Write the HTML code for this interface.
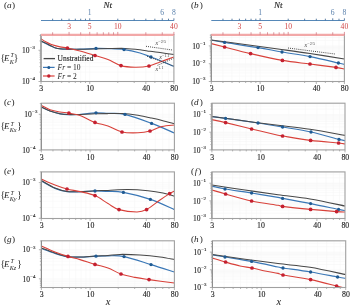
<!DOCTYPE html><html><head><meta charset="utf-8"><style>html,body{margin:0;padding:0;background:#fff;width:350px;height:307px;overflow:hidden}svg{display:block;filter:blur(0.3px)}</style></head><body><svg width="350" height="307" viewBox="0 0 350 307" font-family='"Liberation Serif", serif'>
<rect width="350" height="307" fill="#fff"/>
<style>text{stroke-width:0.12px;paint-order:stroke}</style>
<line x1="41.0" y1="72.11" x2="173.9" y2="72.11" stroke="#f6f6f6" stroke-width="0.6"/>
<line x1="41.0" y1="66.61" x2="173.9" y2="66.61" stroke="#f6f6f6" stroke-width="0.6"/>
<line x1="41.0" y1="62.72" x2="173.9" y2="62.72" stroke="#f6f6f6" stroke-width="0.6"/>
<line x1="41.0" y1="59.69" x2="173.9" y2="59.69" stroke="#f6f6f6" stroke-width="0.6"/>
<line x1="41.0" y1="57.22" x2="173.9" y2="57.22" stroke="#f6f6f6" stroke-width="0.6"/>
<line x1="41.0" y1="55.13" x2="173.9" y2="55.13" stroke="#f6f6f6" stroke-width="0.6"/>
<line x1="41.0" y1="53.32" x2="173.9" y2="53.32" stroke="#f6f6f6" stroke-width="0.6"/>
<line x1="41.0" y1="51.73" x2="173.9" y2="51.73" stroke="#f6f6f6" stroke-width="0.6"/>
<line x1="41.0" y1="50.30" x2="173.9" y2="50.30" stroke="#f6f6f6" stroke-width="0.6"/>
<line x1="41.0" y1="40.91" x2="173.9" y2="40.91" stroke="#f6f6f6" stroke-width="0.6"/>
<line x1="41.0" y1="35.41" x2="173.9" y2="35.41" stroke="#f6f6f6" stroke-width="0.6"/>
<line x1="52.64" y1="34.6" x2="52.64" y2="81.5" stroke="#f6f6f6" stroke-width="0.6"/>
<line x1="61.68" y1="34.6" x2="61.68" y2="81.5" stroke="#f6f6f6" stroke-width="0.6"/>
<line x1="69.06" y1="34.6" x2="69.06" y2="81.5" stroke="#f6f6f6" stroke-width="0.6"/>
<line x1="75.30" y1="34.6" x2="75.30" y2="81.5" stroke="#f6f6f6" stroke-width="0.6"/>
<line x1="80.70" y1="34.6" x2="80.70" y2="81.5" stroke="#f6f6f6" stroke-width="0.6"/>
<line x1="85.47" y1="34.6" x2="85.47" y2="81.5" stroke="#f6f6f6" stroke-width="0.6"/>
<line x1="89.73" y1="34.6" x2="89.73" y2="81.5" stroke="#f6f6f6" stroke-width="0.6"/>
<line x1="117.79" y1="34.6" x2="117.79" y2="81.5" stroke="#f6f6f6" stroke-width="0.6"/>
<line x1="134.20" y1="34.6" x2="134.20" y2="81.5" stroke="#f6f6f6" stroke-width="0.6"/>
<line x1="145.84" y1="34.6" x2="145.84" y2="81.5" stroke="#f6f6f6" stroke-width="0.6"/>
<line x1="154.88" y1="34.6" x2="154.88" y2="81.5" stroke="#f6f6f6" stroke-width="0.6"/>
<line x1="162.26" y1="34.6" x2="162.26" y2="81.5" stroke="#f6f6f6" stroke-width="0.6"/>
<line x1="168.50" y1="34.6" x2="168.50" y2="81.5" stroke="#f6f6f6" stroke-width="0.6"/>
<clipPath id="cp00"><rect x="38.0" y="34.6" width="135.90" height="46.90"/></clipPath><g clip-path="url(#cp00)">
<path d="M41.00,41.20 C41.78,41.57 43.97,42.57 45.70,43.40 C47.43,44.23 49.68,45.40 51.40,46.20 C53.12,47.00 54.57,47.77 56.00,48.20 C57.43,48.63 58.17,48.65 60.00,48.80 C61.83,48.95 63.67,49.03 67.00,49.10 C70.33,49.17 75.17,49.32 80.00,49.20 C84.83,49.08 91.33,48.50 96.00,48.40 C100.67,48.30 103.33,48.40 108.00,48.60 C112.67,48.80 118.67,48.87 124.00,49.60 C129.33,50.33 135.50,51.77 140.00,53.00 C144.50,54.23 147.67,55.75 151.00,57.00 C154.33,58.25 156.18,58.92 160.00,60.50 C163.82,62.08 171.58,65.50 173.90,66.50" fill="none" stroke="#3a77b6" stroke-width="1.2" stroke-linejoin="round"/>
<path d="M41.00,40.90 C41.78,41.27 43.97,42.25 45.70,43.10 C47.43,43.95 49.68,45.17 51.40,46.00 C53.12,46.83 54.57,47.63 56.00,48.10 C57.43,48.57 58.17,48.63 60.00,48.80 C61.83,48.97 63.67,49.02 67.00,49.10 C70.33,49.18 75.33,49.32 80.00,49.30 C84.67,49.28 90.33,49.12 95.00,49.00 C99.67,48.88 103.00,48.70 108.00,48.60 C113.00,48.50 119.67,48.22 125.00,48.40 C130.33,48.58 135.83,49.22 140.00,49.70 C144.17,50.18 146.67,50.82 150.00,51.30 C153.33,51.78 156.02,52.07 160.00,52.60 C163.98,53.13 171.58,54.18 173.90,54.50" fill="none" stroke="#484848" stroke-width="1.05" stroke-linejoin="round"/>
<path d="M41.00,38.80 C41.78,39.28 43.97,40.73 45.70,41.70 C47.43,42.67 49.02,43.73 51.40,44.60 C53.78,45.47 57.33,46.33 60.00,46.90 C62.67,47.47 64.07,47.32 67.40,48.00 C70.73,48.68 75.40,49.75 80.00,51.00 C84.60,52.25 90.33,54.08 95.00,55.50 C99.67,56.92 103.67,57.82 108.00,59.50 C112.33,61.18 116.50,64.32 121.00,65.60 C125.50,66.88 130.33,67.13 135.00,67.20 C139.67,67.27 144.83,66.87 149.00,66.00 C153.17,65.13 155.85,63.50 160.00,62.00 C164.15,60.50 171.58,57.83 173.90,57.00" fill="none" stroke="#d8413a" stroke-width="1.1" stroke-linejoin="round"/>
<circle cx="96.00" cy="48.40" r="1.65" fill="#1f5a92"/>
<circle cx="124.00" cy="49.60" r="1.65" fill="#1f5a92"/>
<circle cx="151.00" cy="57.00" r="1.65" fill="#1f5a92"/>
<circle cx="67.40" cy="48.00" r="1.85" fill="#c42030"/>
<circle cx="95.00" cy="55.50" r="1.85" fill="#c42030"/>
<circle cx="121.00" cy="65.60" r="1.85" fill="#c42030"/>
<circle cx="149.00" cy="66.00" r="1.85" fill="#c42030"/>
</g>
<rect x="41.0" y="34.6" width="132.90" height="46.90" fill="none" stroke="#a0a0a0" stroke-width="1.1"/>
<line x1="41.0" y1="34.6" x2="41.0" y2="81.5" stroke="#8a8a8a" stroke-width="1"/>
<line x1="38.50" y1="81.50" x2="41.0" y2="81.50" stroke="#a0a0a0" stroke-width="0.8"/>
<text x="29.50" y="84.20" font-size="7.5" text-anchor="end"  fill="#222" stroke="#222" >10</text>
<text x="35.10" y="80.30" font-size="5" text-anchor="end"  fill="#222" stroke="#222" >−4</text>
<line x1="39.50" y1="72.11" x2="41.0" y2="72.11" stroke="#a0a0a0" stroke-width="0.8"/>
<line x1="39.50" y1="66.61" x2="41.0" y2="66.61" stroke="#a0a0a0" stroke-width="0.8"/>
<line x1="39.50" y1="62.72" x2="41.0" y2="62.72" stroke="#a0a0a0" stroke-width="0.8"/>
<line x1="39.50" y1="59.69" x2="41.0" y2="59.69" stroke="#a0a0a0" stroke-width="0.8"/>
<line x1="39.50" y1="57.22" x2="41.0" y2="57.22" stroke="#a0a0a0" stroke-width="0.8"/>
<line x1="39.50" y1="55.13" x2="41.0" y2="55.13" stroke="#a0a0a0" stroke-width="0.8"/>
<line x1="39.50" y1="53.32" x2="41.0" y2="53.32" stroke="#a0a0a0" stroke-width="0.8"/>
<line x1="39.50" y1="51.73" x2="41.0" y2="51.73" stroke="#a0a0a0" stroke-width="0.8"/>
<line x1="38.50" y1="50.30" x2="41.0" y2="50.30" stroke="#a0a0a0" stroke-width="0.8"/>
<text x="29.50" y="53.00" font-size="7.5" text-anchor="end"  fill="#222" stroke="#222" >10</text>
<text x="35.10" y="49.10" font-size="5" text-anchor="end"  fill="#222" stroke="#222" >−3</text>
<line x1="39.50" y1="40.91" x2="41.0" y2="40.91" stroke="#a0a0a0" stroke-width="0.8"/>
<line x1="39.50" y1="35.41" x2="41.0" y2="35.41" stroke="#a0a0a0" stroke-width="0.8"/>
<line x1="41.00" y1="81.5" x2="41.00" y2="84.0" stroke="#a0a0a0" stroke-width="0.8"/>
<line x1="52.64" y1="81.5" x2="52.64" y2="83.0" stroke="#a0a0a0" stroke-width="0.8"/>
<line x1="61.68" y1="81.5" x2="61.68" y2="83.0" stroke="#a0a0a0" stroke-width="0.8"/>
<line x1="69.06" y1="81.5" x2="69.06" y2="83.0" stroke="#a0a0a0" stroke-width="0.8"/>
<line x1="75.30" y1="81.5" x2="75.30" y2="83.0" stroke="#a0a0a0" stroke-width="0.8"/>
<line x1="80.70" y1="81.5" x2="80.70" y2="83.0" stroke="#a0a0a0" stroke-width="0.8"/>
<line x1="85.47" y1="81.5" x2="85.47" y2="83.0" stroke="#a0a0a0" stroke-width="0.8"/>
<line x1="89.73" y1="81.5" x2="89.73" y2="84.0" stroke="#a0a0a0" stroke-width="0.8"/>
<line x1="117.79" y1="81.5" x2="117.79" y2="83.0" stroke="#a0a0a0" stroke-width="0.8"/>
<line x1="134.20" y1="81.5" x2="134.20" y2="83.0" stroke="#a0a0a0" stroke-width="0.8"/>
<line x1="145.84" y1="81.5" x2="145.84" y2="84.0" stroke="#a0a0a0" stroke-width="0.8"/>
<line x1="154.88" y1="81.5" x2="154.88" y2="83.0" stroke="#a0a0a0" stroke-width="0.8"/>
<line x1="162.26" y1="81.5" x2="162.26" y2="83.0" stroke="#a0a0a0" stroke-width="0.8"/>
<line x1="168.50" y1="81.5" x2="168.50" y2="83.0" stroke="#a0a0a0" stroke-width="0.8"/>
<line x1="173.90" y1="81.5" x2="173.90" y2="84.0" stroke="#a0a0a0" stroke-width="0.8"/>
<text x="41.30" y="91.40" font-size="7.8" text-anchor="middle"  fill="#222" stroke="#222" >3</text>
<text x="90.03" y="91.40" font-size="7.8" text-anchor="middle"  fill="#222" stroke="#222" >10</text>
<text x="146.14" y="91.40" font-size="7.8" text-anchor="middle"  fill="#222" stroke="#222" >40</text>
<text x="174.20" y="91.40" font-size="7.8" text-anchor="middle"  fill="#222" stroke="#222" >80</text>
<line x1="211.3" y1="76.14" x2="344.4" y2="76.14" stroke="#f6f6f6" stroke-width="0.6"/>
<line x1="211.3" y1="73.01" x2="344.4" y2="73.01" stroke="#f6f6f6" stroke-width="0.6"/>
<line x1="211.3" y1="70.78" x2="344.4" y2="70.78" stroke="#f6f6f6" stroke-width="0.6"/>
<line x1="211.3" y1="69.06" x2="344.4" y2="69.06" stroke="#f6f6f6" stroke-width="0.6"/>
<line x1="211.3" y1="67.65" x2="344.4" y2="67.65" stroke="#f6f6f6" stroke-width="0.6"/>
<line x1="211.3" y1="66.46" x2="344.4" y2="66.46" stroke="#f6f6f6" stroke-width="0.6"/>
<line x1="211.3" y1="65.42" x2="344.4" y2="65.42" stroke="#f6f6f6" stroke-width="0.6"/>
<line x1="211.3" y1="64.51" x2="344.4" y2="64.51" stroke="#f6f6f6" stroke-width="0.6"/>
<line x1="211.3" y1="63.70" x2="344.4" y2="63.70" stroke="#f6f6f6" stroke-width="0.6"/>
<line x1="211.3" y1="58.34" x2="344.4" y2="58.34" stroke="#f6f6f6" stroke-width="0.6"/>
<line x1="211.3" y1="55.21" x2="344.4" y2="55.21" stroke="#f6f6f6" stroke-width="0.6"/>
<line x1="211.3" y1="52.98" x2="344.4" y2="52.98" stroke="#f6f6f6" stroke-width="0.6"/>
<line x1="211.3" y1="51.26" x2="344.4" y2="51.26" stroke="#f6f6f6" stroke-width="0.6"/>
<line x1="211.3" y1="49.85" x2="344.4" y2="49.85" stroke="#f6f6f6" stroke-width="0.6"/>
<line x1="211.3" y1="48.66" x2="344.4" y2="48.66" stroke="#f6f6f6" stroke-width="0.6"/>
<line x1="211.3" y1="47.62" x2="344.4" y2="47.62" stroke="#f6f6f6" stroke-width="0.6"/>
<line x1="211.3" y1="46.71" x2="344.4" y2="46.71" stroke="#f6f6f6" stroke-width="0.6"/>
<line x1="211.3" y1="45.90" x2="344.4" y2="45.90" stroke="#f6f6f6" stroke-width="0.6"/>
<line x1="211.3" y1="40.54" x2="344.4" y2="40.54" stroke="#f6f6f6" stroke-width="0.6"/>
<line x1="211.3" y1="37.41" x2="344.4" y2="37.41" stroke="#f6f6f6" stroke-width="0.6"/>
<line x1="211.3" y1="35.18" x2="344.4" y2="35.18" stroke="#f6f6f6" stroke-width="0.6"/>
<line x1="222.96" y1="34.6" x2="222.96" y2="81.5" stroke="#f6f6f6" stroke-width="0.6"/>
<line x1="232.01" y1="34.6" x2="232.01" y2="81.5" stroke="#f6f6f6" stroke-width="0.6"/>
<line x1="239.40" y1="34.6" x2="239.40" y2="81.5" stroke="#f6f6f6" stroke-width="0.6"/>
<line x1="245.65" y1="34.6" x2="245.65" y2="81.5" stroke="#f6f6f6" stroke-width="0.6"/>
<line x1="251.06" y1="34.6" x2="251.06" y2="81.5" stroke="#f6f6f6" stroke-width="0.6"/>
<line x1="255.83" y1="34.6" x2="255.83" y2="81.5" stroke="#f6f6f6" stroke-width="0.6"/>
<line x1="260.11" y1="34.6" x2="260.11" y2="81.5" stroke="#f6f6f6" stroke-width="0.6"/>
<line x1="288.20" y1="34.6" x2="288.20" y2="81.5" stroke="#f6f6f6" stroke-width="0.6"/>
<line x1="304.64" y1="34.6" x2="304.64" y2="81.5" stroke="#f6f6f6" stroke-width="0.6"/>
<line x1="316.30" y1="34.6" x2="316.30" y2="81.5" stroke="#f6f6f6" stroke-width="0.6"/>
<line x1="325.35" y1="34.6" x2="325.35" y2="81.5" stroke="#f6f6f6" stroke-width="0.6"/>
<line x1="332.74" y1="34.6" x2="332.74" y2="81.5" stroke="#f6f6f6" stroke-width="0.6"/>
<line x1="338.99" y1="34.6" x2="338.99" y2="81.5" stroke="#f6f6f6" stroke-width="0.6"/>
<clipPath id="cp10"><rect x="208.3" y="34.6" width="136.10" height="46.90"/></clipPath><g clip-path="url(#cp10)">
<path d="M211.30,40.20 C213.52,40.57 216.82,41.17 224.60,42.40 C232.38,43.63 248.43,46.00 258.00,47.60 C267.57,49.20 273.33,50.50 282.00,52.00 C290.67,53.50 300.60,54.77 310.00,56.60 C319.40,58.43 332.67,61.70 338.40,63.00 C344.13,64.30 343.40,64.17 344.40,64.40" fill="none" stroke="#3a77b6" stroke-width="1.2" stroke-linejoin="round"/>
<path d="M211.30,40.00 C216.92,40.75 233.88,43.00 245.00,44.50 C256.12,46.00 267.17,47.50 278.00,49.00 C288.83,50.50 298.93,51.83 310.00,53.50 C321.07,55.17 338.67,58.08 344.40,59.00" fill="none" stroke="#484848" stroke-width="1.05" stroke-linejoin="round"/>
<path d="M211.30,43.60 C213.52,44.17 218.05,45.33 224.60,47.00 C231.15,48.67 240.97,51.37 250.60,53.60 C260.23,55.83 272.50,58.67 282.40,60.40 C292.30,62.13 301.07,62.83 310.00,64.00 C318.93,65.17 330.27,66.57 336.00,67.40 C341.73,68.23 343.00,68.73 344.40,69.00" fill="none" stroke="#d8413a" stroke-width="1.1" stroke-linejoin="round"/>
<circle cx="224.60" cy="42.40" r="1.65" fill="#1f5a92"/>
<circle cx="258.00" cy="47.60" r="1.65" fill="#1f5a92"/>
<circle cx="282.00" cy="52.00" r="1.65" fill="#1f5a92"/>
<circle cx="310.00" cy="56.60" r="1.65" fill="#1f5a92"/>
<circle cx="338.40" cy="63.00" r="1.65" fill="#1f5a92"/>
<circle cx="224.60" cy="47.00" r="1.85" fill="#c42030"/>
<circle cx="250.60" cy="53.60" r="1.85" fill="#c42030"/>
<circle cx="282.40" cy="60.40" r="1.85" fill="#c42030"/>
<circle cx="310.00" cy="64.00" r="1.85" fill="#c42030"/>
<circle cx="336.00" cy="67.40" r="1.85" fill="#c42030"/>
</g>
<rect x="211.3" y="34.6" width="133.10" height="46.90" fill="none" stroke="#a0a0a0" stroke-width="1.1"/>
<line x1="211.3" y1="34.6" x2="211.3" y2="81.5" stroke="#8a8a8a" stroke-width="1"/>
<line x1="208.80" y1="81.50" x2="211.3" y2="81.50" stroke="#a0a0a0" stroke-width="0.8"/>
<text x="199.80" y="84.20" font-size="7.5" text-anchor="end"  fill="#222" stroke="#222" >10</text>
<text x="205.40" y="80.30" font-size="5" text-anchor="end"  fill="#222" stroke="#222" >−3</text>
<line x1="209.80" y1="76.14" x2="211.3" y2="76.14" stroke="#a0a0a0" stroke-width="0.8"/>
<line x1="209.80" y1="73.01" x2="211.3" y2="73.01" stroke="#a0a0a0" stroke-width="0.8"/>
<line x1="209.80" y1="70.78" x2="211.3" y2="70.78" stroke="#a0a0a0" stroke-width="0.8"/>
<line x1="209.80" y1="69.06" x2="211.3" y2="69.06" stroke="#a0a0a0" stroke-width="0.8"/>
<line x1="209.80" y1="67.65" x2="211.3" y2="67.65" stroke="#a0a0a0" stroke-width="0.8"/>
<line x1="209.80" y1="66.46" x2="211.3" y2="66.46" stroke="#a0a0a0" stroke-width="0.8"/>
<line x1="209.80" y1="65.42" x2="211.3" y2="65.42" stroke="#a0a0a0" stroke-width="0.8"/>
<line x1="209.80" y1="64.51" x2="211.3" y2="64.51" stroke="#a0a0a0" stroke-width="0.8"/>
<line x1="208.80" y1="63.70" x2="211.3" y2="63.70" stroke="#a0a0a0" stroke-width="0.8"/>
<text x="199.80" y="66.40" font-size="7.5" text-anchor="end"  fill="#222" stroke="#222" >10</text>
<text x="205.40" y="62.50" font-size="5" text-anchor="end"  fill="#222" stroke="#222" >−2</text>
<line x1="209.80" y1="58.34" x2="211.3" y2="58.34" stroke="#a0a0a0" stroke-width="0.8"/>
<line x1="209.80" y1="55.21" x2="211.3" y2="55.21" stroke="#a0a0a0" stroke-width="0.8"/>
<line x1="209.80" y1="52.98" x2="211.3" y2="52.98" stroke="#a0a0a0" stroke-width="0.8"/>
<line x1="209.80" y1="51.26" x2="211.3" y2="51.26" stroke="#a0a0a0" stroke-width="0.8"/>
<line x1="209.80" y1="49.85" x2="211.3" y2="49.85" stroke="#a0a0a0" stroke-width="0.8"/>
<line x1="209.80" y1="48.66" x2="211.3" y2="48.66" stroke="#a0a0a0" stroke-width="0.8"/>
<line x1="209.80" y1="47.62" x2="211.3" y2="47.62" stroke="#a0a0a0" stroke-width="0.8"/>
<line x1="209.80" y1="46.71" x2="211.3" y2="46.71" stroke="#a0a0a0" stroke-width="0.8"/>
<line x1="208.80" y1="45.90" x2="211.3" y2="45.90" stroke="#a0a0a0" stroke-width="0.8"/>
<text x="199.80" y="48.60" font-size="7.5" text-anchor="end"  fill="#222" stroke="#222" >10</text>
<text x="205.40" y="44.70" font-size="5" text-anchor="end"  fill="#222" stroke="#222" >−1</text>
<line x1="209.80" y1="40.54" x2="211.3" y2="40.54" stroke="#a0a0a0" stroke-width="0.8"/>
<line x1="209.80" y1="37.41" x2="211.3" y2="37.41" stroke="#a0a0a0" stroke-width="0.8"/>
<line x1="209.80" y1="35.18" x2="211.3" y2="35.18" stroke="#a0a0a0" stroke-width="0.8"/>
<line x1="211.30" y1="81.5" x2="211.30" y2="84.0" stroke="#a0a0a0" stroke-width="0.8"/>
<line x1="222.96" y1="81.5" x2="222.96" y2="83.0" stroke="#a0a0a0" stroke-width="0.8"/>
<line x1="232.01" y1="81.5" x2="232.01" y2="83.0" stroke="#a0a0a0" stroke-width="0.8"/>
<line x1="239.40" y1="81.5" x2="239.40" y2="83.0" stroke="#a0a0a0" stroke-width="0.8"/>
<line x1="245.65" y1="81.5" x2="245.65" y2="83.0" stroke="#a0a0a0" stroke-width="0.8"/>
<line x1="251.06" y1="81.5" x2="251.06" y2="83.0" stroke="#a0a0a0" stroke-width="0.8"/>
<line x1="255.83" y1="81.5" x2="255.83" y2="83.0" stroke="#a0a0a0" stroke-width="0.8"/>
<line x1="260.11" y1="81.5" x2="260.11" y2="84.0" stroke="#a0a0a0" stroke-width="0.8"/>
<line x1="288.20" y1="81.5" x2="288.20" y2="83.0" stroke="#a0a0a0" stroke-width="0.8"/>
<line x1="304.64" y1="81.5" x2="304.64" y2="83.0" stroke="#a0a0a0" stroke-width="0.8"/>
<line x1="316.30" y1="81.5" x2="316.30" y2="84.0" stroke="#a0a0a0" stroke-width="0.8"/>
<line x1="325.35" y1="81.5" x2="325.35" y2="83.0" stroke="#a0a0a0" stroke-width="0.8"/>
<line x1="332.74" y1="81.5" x2="332.74" y2="83.0" stroke="#a0a0a0" stroke-width="0.8"/>
<line x1="338.99" y1="81.5" x2="338.99" y2="83.0" stroke="#a0a0a0" stroke-width="0.8"/>
<line x1="344.40" y1="81.5" x2="344.40" y2="84.0" stroke="#a0a0a0" stroke-width="0.8"/>
<text x="211.60" y="91.40" font-size="7.8" text-anchor="middle"  fill="#222" stroke="#222" >3</text>
<text x="260.41" y="91.40" font-size="7.8" text-anchor="middle"  fill="#222" stroke="#222" >10</text>
<text x="316.60" y="91.40" font-size="7.8" text-anchor="middle"  fill="#222" stroke="#222" >40</text>
<text x="344.70" y="91.40" font-size="7.8" text-anchor="middle"  fill="#222" stroke="#222" >80</text>
<line x1="41.3" y1="139.39" x2="174.4" y2="139.39" stroke="#f6f6f6" stroke-width="0.6"/>
<line x1="41.3" y1="133.07" x2="174.4" y2="133.07" stroke="#f6f6f6" stroke-width="0.6"/>
<line x1="41.3" y1="128.59" x2="174.4" y2="128.59" stroke="#f6f6f6" stroke-width="0.6"/>
<line x1="41.3" y1="125.11" x2="174.4" y2="125.11" stroke="#f6f6f6" stroke-width="0.6"/>
<line x1="41.3" y1="122.26" x2="174.4" y2="122.26" stroke="#f6f6f6" stroke-width="0.6"/>
<line x1="41.3" y1="119.86" x2="174.4" y2="119.86" stroke="#f6f6f6" stroke-width="0.6"/>
<line x1="41.3" y1="117.78" x2="174.4" y2="117.78" stroke="#f6f6f6" stroke-width="0.6"/>
<line x1="41.3" y1="115.94" x2="174.4" y2="115.94" stroke="#f6f6f6" stroke-width="0.6"/>
<line x1="41.3" y1="114.30" x2="174.4" y2="114.30" stroke="#f6f6f6" stroke-width="0.6"/>
<line x1="52.96" y1="103.2" x2="52.96" y2="149.9" stroke="#f6f6f6" stroke-width="0.6"/>
<line x1="62.01" y1="103.2" x2="62.01" y2="149.9" stroke="#f6f6f6" stroke-width="0.6"/>
<line x1="69.40" y1="103.2" x2="69.40" y2="149.9" stroke="#f6f6f6" stroke-width="0.6"/>
<line x1="75.65" y1="103.2" x2="75.65" y2="149.9" stroke="#f6f6f6" stroke-width="0.6"/>
<line x1="81.06" y1="103.2" x2="81.06" y2="149.9" stroke="#f6f6f6" stroke-width="0.6"/>
<line x1="85.83" y1="103.2" x2="85.83" y2="149.9" stroke="#f6f6f6" stroke-width="0.6"/>
<line x1="90.11" y1="103.2" x2="90.11" y2="149.9" stroke="#f6f6f6" stroke-width="0.6"/>
<line x1="118.20" y1="103.2" x2="118.20" y2="149.9" stroke="#f6f6f6" stroke-width="0.6"/>
<line x1="134.64" y1="103.2" x2="134.64" y2="149.9" stroke="#f6f6f6" stroke-width="0.6"/>
<line x1="146.30" y1="103.2" x2="146.30" y2="149.9" stroke="#f6f6f6" stroke-width="0.6"/>
<line x1="155.35" y1="103.2" x2="155.35" y2="149.9" stroke="#f6f6f6" stroke-width="0.6"/>
<line x1="162.74" y1="103.2" x2="162.74" y2="149.9" stroke="#f6f6f6" stroke-width="0.6"/>
<line x1="168.99" y1="103.2" x2="168.99" y2="149.9" stroke="#f6f6f6" stroke-width="0.6"/>
<clipPath id="cp01"><rect x="38.3" y="103.2" width="136.10" height="46.70"/></clipPath><g clip-path="url(#cp01)">
<path d="M41.30,107.00 C42.75,107.67 46.88,109.87 50.00,111.00 C53.12,112.13 57.00,113.20 60.00,113.80 C63.00,114.40 65.00,114.48 68.00,114.60 C71.00,114.72 73.33,114.80 78.00,114.50 C82.67,114.20 91.00,112.98 96.00,112.80 C101.00,112.62 103.17,113.13 108.00,113.40 C112.83,113.67 117.73,112.73 125.00,114.40 C132.27,116.07 143.37,120.30 151.60,123.40 C159.83,126.50 170.60,131.40 174.40,133.00" fill="none" stroke="#3a77b6" stroke-width="1.2" stroke-linejoin="round"/>
<path d="M41.30,106.90 C42.75,107.57 46.88,109.77 50.00,110.90 C53.12,112.03 57.00,113.08 60.00,113.70 C63.00,114.32 65.00,114.47 68.00,114.60 C71.00,114.73 73.50,114.63 78.00,114.50 C82.50,114.37 90.00,113.95 95.00,113.80 C100.00,113.65 103.50,113.63 108.00,113.60 C112.50,113.57 117.33,113.37 122.00,113.60 C126.67,113.83 131.33,114.30 136.00,115.00 C140.67,115.70 145.67,116.90 150.00,117.80 C154.33,118.70 157.93,119.43 162.00,120.40 C166.07,121.37 172.33,123.07 174.40,123.60" fill="none" stroke="#484848" stroke-width="1.05" stroke-linejoin="round"/>
<path d="M41.30,105.50 C42.75,106.20 46.88,108.62 50.00,109.70 C53.12,110.78 56.85,111.43 60.00,112.00 C63.15,112.57 65.57,112.50 68.90,113.10 C72.23,113.70 75.65,114.05 80.00,115.60 C84.35,117.15 90.33,120.67 95.00,122.40 C99.67,124.13 103.50,124.40 108.00,126.00 C112.50,127.60 117.00,130.87 122.00,132.00 C127.00,133.13 133.33,132.97 138.00,132.80 C142.67,132.63 146.00,132.05 150.00,131.00 C154.00,129.95 157.93,127.50 162.00,126.50 C166.07,125.50 172.33,125.25 174.40,125.00" fill="none" stroke="#d8413a" stroke-width="1.1" stroke-linejoin="round"/>
<circle cx="96.00" cy="112.80" r="1.65" fill="#1f5a92"/>
<circle cx="125.00" cy="114.40" r="1.65" fill="#1f5a92"/>
<circle cx="151.60" cy="123.40" r="1.65" fill="#1f5a92"/>
<circle cx="68.90" cy="113.10" r="1.85" fill="#c42030"/>
<circle cx="95.00" cy="122.40" r="1.85" fill="#c42030"/>
<circle cx="122.00" cy="132.00" r="1.85" fill="#c42030"/>
<circle cx="150.00" cy="131.00" r="1.85" fill="#c42030"/>
</g>
<rect x="41.3" y="103.2" width="133.10" height="46.70" fill="none" stroke="#a0a0a0" stroke-width="1.1"/>
<line x1="41.3" y1="103.2" x2="41.3" y2="149.9" stroke="#8a8a8a" stroke-width="1"/>
<line x1="38.80" y1="150.20" x2="41.3" y2="150.20" stroke="#a0a0a0" stroke-width="0.8"/>
<text x="29.80" y="152.90" font-size="7.5" text-anchor="end"  fill="#222" stroke="#222" >10</text>
<text x="35.40" y="149.00" font-size="5" text-anchor="end"  fill="#222" stroke="#222" >−4</text>
<line x1="39.80" y1="139.39" x2="41.3" y2="139.39" stroke="#a0a0a0" stroke-width="0.8"/>
<line x1="39.80" y1="133.07" x2="41.3" y2="133.07" stroke="#a0a0a0" stroke-width="0.8"/>
<line x1="39.80" y1="128.59" x2="41.3" y2="128.59" stroke="#a0a0a0" stroke-width="0.8"/>
<line x1="39.80" y1="125.11" x2="41.3" y2="125.11" stroke="#a0a0a0" stroke-width="0.8"/>
<line x1="39.80" y1="122.26" x2="41.3" y2="122.26" stroke="#a0a0a0" stroke-width="0.8"/>
<line x1="39.80" y1="119.86" x2="41.3" y2="119.86" stroke="#a0a0a0" stroke-width="0.8"/>
<line x1="39.80" y1="117.78" x2="41.3" y2="117.78" stroke="#a0a0a0" stroke-width="0.8"/>
<line x1="39.80" y1="115.94" x2="41.3" y2="115.94" stroke="#a0a0a0" stroke-width="0.8"/>
<line x1="38.80" y1="114.30" x2="41.3" y2="114.30" stroke="#a0a0a0" stroke-width="0.8"/>
<text x="31.80" y="117.00" font-size="7.5" text-anchor="end"  fill="#222" stroke="#222" >10</text>
<text x="37.40" y="113.10" font-size="5" text-anchor="end"  fill="#222" stroke="#222" >−3</text>
<line x1="39.80" y1="103.49" x2="41.3" y2="103.49" stroke="#a0a0a0" stroke-width="0.8"/>
<line x1="41.30" y1="149.9" x2="41.30" y2="152.4" stroke="#a0a0a0" stroke-width="0.8"/>
<line x1="52.96" y1="149.9" x2="52.96" y2="151.4" stroke="#a0a0a0" stroke-width="0.8"/>
<line x1="62.01" y1="149.9" x2="62.01" y2="151.4" stroke="#a0a0a0" stroke-width="0.8"/>
<line x1="69.40" y1="149.9" x2="69.40" y2="151.4" stroke="#a0a0a0" stroke-width="0.8"/>
<line x1="75.65" y1="149.9" x2="75.65" y2="151.4" stroke="#a0a0a0" stroke-width="0.8"/>
<line x1="81.06" y1="149.9" x2="81.06" y2="151.4" stroke="#a0a0a0" stroke-width="0.8"/>
<line x1="85.83" y1="149.9" x2="85.83" y2="151.4" stroke="#a0a0a0" stroke-width="0.8"/>
<line x1="90.11" y1="149.9" x2="90.11" y2="152.4" stroke="#a0a0a0" stroke-width="0.8"/>
<line x1="118.20" y1="149.9" x2="118.20" y2="151.4" stroke="#a0a0a0" stroke-width="0.8"/>
<line x1="134.64" y1="149.9" x2="134.64" y2="151.4" stroke="#a0a0a0" stroke-width="0.8"/>
<line x1="146.30" y1="149.9" x2="146.30" y2="152.4" stroke="#a0a0a0" stroke-width="0.8"/>
<line x1="155.35" y1="149.9" x2="155.35" y2="151.4" stroke="#a0a0a0" stroke-width="0.8"/>
<line x1="162.74" y1="149.9" x2="162.74" y2="151.4" stroke="#a0a0a0" stroke-width="0.8"/>
<line x1="168.99" y1="149.9" x2="168.99" y2="151.4" stroke="#a0a0a0" stroke-width="0.8"/>
<line x1="174.40" y1="149.9" x2="174.40" y2="152.4" stroke="#a0a0a0" stroke-width="0.8"/>
<text x="41.60" y="159.80" font-size="7.8" text-anchor="middle"  fill="#222" stroke="#222" >3</text>
<text x="90.41" y="159.80" font-size="7.8" text-anchor="middle"  fill="#222" stroke="#222" >10</text>
<text x="146.60" y="159.80" font-size="7.8" text-anchor="middle"  fill="#222" stroke="#222" >40</text>
<text x="174.70" y="159.80" font-size="7.8" text-anchor="middle"  fill="#222" stroke="#222" >80</text>
<line x1="211.9" y1="144.57" x2="345.0" y2="144.57" stroke="#f6f6f6" stroke-width="0.6"/>
<line x1="211.9" y1="141.45" x2="345.0" y2="141.45" stroke="#f6f6f6" stroke-width="0.6"/>
<line x1="211.9" y1="139.24" x2="345.0" y2="139.24" stroke="#f6f6f6" stroke-width="0.6"/>
<line x1="211.9" y1="137.53" x2="345.0" y2="137.53" stroke="#f6f6f6" stroke-width="0.6"/>
<line x1="211.9" y1="136.13" x2="345.0" y2="136.13" stroke="#f6f6f6" stroke-width="0.6"/>
<line x1="211.9" y1="134.94" x2="345.0" y2="134.94" stroke="#f6f6f6" stroke-width="0.6"/>
<line x1="211.9" y1="133.92" x2="345.0" y2="133.92" stroke="#f6f6f6" stroke-width="0.6"/>
<line x1="211.9" y1="133.01" x2="345.0" y2="133.01" stroke="#f6f6f6" stroke-width="0.6"/>
<line x1="211.9" y1="132.20" x2="345.0" y2="132.20" stroke="#f6f6f6" stroke-width="0.6"/>
<line x1="211.9" y1="126.87" x2="345.0" y2="126.87" stroke="#f6f6f6" stroke-width="0.6"/>
<line x1="211.9" y1="123.75" x2="345.0" y2="123.75" stroke="#f6f6f6" stroke-width="0.6"/>
<line x1="211.9" y1="121.54" x2="345.0" y2="121.54" stroke="#f6f6f6" stroke-width="0.6"/>
<line x1="211.9" y1="119.83" x2="345.0" y2="119.83" stroke="#f6f6f6" stroke-width="0.6"/>
<line x1="211.9" y1="118.43" x2="345.0" y2="118.43" stroke="#f6f6f6" stroke-width="0.6"/>
<line x1="211.9" y1="117.24" x2="345.0" y2="117.24" stroke="#f6f6f6" stroke-width="0.6"/>
<line x1="211.9" y1="116.22" x2="345.0" y2="116.22" stroke="#f6f6f6" stroke-width="0.6"/>
<line x1="211.9" y1="115.31" x2="345.0" y2="115.31" stroke="#f6f6f6" stroke-width="0.6"/>
<line x1="211.9" y1="114.50" x2="345.0" y2="114.50" stroke="#f6f6f6" stroke-width="0.6"/>
<line x1="211.9" y1="109.17" x2="345.0" y2="109.17" stroke="#f6f6f6" stroke-width="0.6"/>
<line x1="211.9" y1="106.05" x2="345.0" y2="106.05" stroke="#f6f6f6" stroke-width="0.6"/>
<line x1="211.9" y1="103.84" x2="345.0" y2="103.84" stroke="#f6f6f6" stroke-width="0.6"/>
<line x1="223.56" y1="103.2" x2="223.56" y2="149.9" stroke="#f6f6f6" stroke-width="0.6"/>
<line x1="232.61" y1="103.2" x2="232.61" y2="149.9" stroke="#f6f6f6" stroke-width="0.6"/>
<line x1="240.00" y1="103.2" x2="240.00" y2="149.9" stroke="#f6f6f6" stroke-width="0.6"/>
<line x1="246.25" y1="103.2" x2="246.25" y2="149.9" stroke="#f6f6f6" stroke-width="0.6"/>
<line x1="251.66" y1="103.2" x2="251.66" y2="149.9" stroke="#f6f6f6" stroke-width="0.6"/>
<line x1="256.43" y1="103.2" x2="256.43" y2="149.9" stroke="#f6f6f6" stroke-width="0.6"/>
<line x1="260.71" y1="103.2" x2="260.71" y2="149.9" stroke="#f6f6f6" stroke-width="0.6"/>
<line x1="288.80" y1="103.2" x2="288.80" y2="149.9" stroke="#f6f6f6" stroke-width="0.6"/>
<line x1="305.24" y1="103.2" x2="305.24" y2="149.9" stroke="#f6f6f6" stroke-width="0.6"/>
<line x1="316.90" y1="103.2" x2="316.90" y2="149.9" stroke="#f6f6f6" stroke-width="0.6"/>
<line x1="325.95" y1="103.2" x2="325.95" y2="149.9" stroke="#f6f6f6" stroke-width="0.6"/>
<line x1="333.34" y1="103.2" x2="333.34" y2="149.9" stroke="#f6f6f6" stroke-width="0.6"/>
<line x1="339.59" y1="103.2" x2="339.59" y2="149.9" stroke="#f6f6f6" stroke-width="0.6"/>
<clipPath id="cp11"><rect x="208.9" y="103.2" width="136.10" height="46.70"/></clipPath><g clip-path="url(#cp11)">
<path d="M211.90,116.60 C214.18,116.90 217.92,117.33 225.60,118.40 C233.28,119.47 248.50,121.57 258.00,123.00 C267.50,124.43 273.77,125.50 282.60,127.00 C291.43,128.50 301.60,129.93 311.00,132.00 C320.40,134.07 333.33,137.97 339.00,139.40 C344.67,140.83 344.00,140.40 345.00,140.60" fill="none" stroke="#3a77b6" stroke-width="1.2" stroke-linejoin="round"/>
<path d="M211.90,116.40 C217.42,117.17 233.98,119.53 245.00,121.00 C256.02,122.47 267.17,123.82 278.00,125.20 C288.83,126.58 298.83,127.60 310.00,129.30 C321.17,131.00 339.17,134.38 345.00,135.40" fill="none" stroke="#484848" stroke-width="1.05" stroke-linejoin="round"/>
<path d="M211.90,119.60 C214.18,120.10 218.98,121.03 225.60,122.60 C232.22,124.17 242.87,126.90 251.60,129.00 C260.33,131.10 272.83,134.03 278.00,135.20 C283.17,136.37 277.17,135.13 282.60,136.00 C288.03,136.87 301.27,139.23 310.60,140.40 C319.93,141.57 332.87,142.40 338.60,143.00 C344.33,143.60 343.93,143.83 345.00,144.00" fill="none" stroke="#d8413a" stroke-width="1.1" stroke-linejoin="round"/>
<circle cx="225.60" cy="118.40" r="1.65" fill="#1f5a92"/>
<circle cx="258.00" cy="123.00" r="1.65" fill="#1f5a92"/>
<circle cx="282.60" cy="127.00" r="1.65" fill="#1f5a92"/>
<circle cx="311.00" cy="132.00" r="1.65" fill="#1f5a92"/>
<circle cx="339.00" cy="139.40" r="1.65" fill="#1f5a92"/>
<circle cx="225.60" cy="122.60" r="1.85" fill="#c42030"/>
<circle cx="251.60" cy="129.00" r="1.85" fill="#c42030"/>
<circle cx="282.60" cy="136.00" r="1.85" fill="#c42030"/>
<circle cx="310.60" cy="140.40" r="1.85" fill="#c42030"/>
<circle cx="338.60" cy="143.00" r="1.85" fill="#c42030"/>
</g>
<rect x="211.9" y="103.2" width="133.10" height="46.70" fill="none" stroke="#a0a0a0" stroke-width="1.1"/>
<line x1="211.9" y1="103.2" x2="211.9" y2="149.9" stroke="#8a8a8a" stroke-width="1"/>
<line x1="209.40" y1="149.90" x2="211.9" y2="149.90" stroke="#a0a0a0" stroke-width="0.8"/>
<text x="200.40" y="152.60" font-size="7.5" text-anchor="end"  fill="#222" stroke="#222" >10</text>
<text x="206.00" y="148.70" font-size="5" text-anchor="end"  fill="#222" stroke="#222" >−3</text>
<line x1="210.40" y1="144.57" x2="211.9" y2="144.57" stroke="#a0a0a0" stroke-width="0.8"/>
<line x1="210.40" y1="141.45" x2="211.9" y2="141.45" stroke="#a0a0a0" stroke-width="0.8"/>
<line x1="210.40" y1="139.24" x2="211.9" y2="139.24" stroke="#a0a0a0" stroke-width="0.8"/>
<line x1="210.40" y1="137.53" x2="211.9" y2="137.53" stroke="#a0a0a0" stroke-width="0.8"/>
<line x1="210.40" y1="136.13" x2="211.9" y2="136.13" stroke="#a0a0a0" stroke-width="0.8"/>
<line x1="210.40" y1="134.94" x2="211.9" y2="134.94" stroke="#a0a0a0" stroke-width="0.8"/>
<line x1="210.40" y1="133.92" x2="211.9" y2="133.92" stroke="#a0a0a0" stroke-width="0.8"/>
<line x1="210.40" y1="133.01" x2="211.9" y2="133.01" stroke="#a0a0a0" stroke-width="0.8"/>
<line x1="209.40" y1="132.20" x2="211.9" y2="132.20" stroke="#a0a0a0" stroke-width="0.8"/>
<text x="200.40" y="134.90" font-size="7.5" text-anchor="end"  fill="#222" stroke="#222" >10</text>
<text x="206.00" y="131.00" font-size="5" text-anchor="end"  fill="#222" stroke="#222" >−2</text>
<line x1="210.40" y1="126.87" x2="211.9" y2="126.87" stroke="#a0a0a0" stroke-width="0.8"/>
<line x1="210.40" y1="123.75" x2="211.9" y2="123.75" stroke="#a0a0a0" stroke-width="0.8"/>
<line x1="210.40" y1="121.54" x2="211.9" y2="121.54" stroke="#a0a0a0" stroke-width="0.8"/>
<line x1="210.40" y1="119.83" x2="211.9" y2="119.83" stroke="#a0a0a0" stroke-width="0.8"/>
<line x1="210.40" y1="118.43" x2="211.9" y2="118.43" stroke="#a0a0a0" stroke-width="0.8"/>
<line x1="210.40" y1="117.24" x2="211.9" y2="117.24" stroke="#a0a0a0" stroke-width="0.8"/>
<line x1="210.40" y1="116.22" x2="211.9" y2="116.22" stroke="#a0a0a0" stroke-width="0.8"/>
<line x1="210.40" y1="115.31" x2="211.9" y2="115.31" stroke="#a0a0a0" stroke-width="0.8"/>
<line x1="209.40" y1="114.50" x2="211.9" y2="114.50" stroke="#a0a0a0" stroke-width="0.8"/>
<text x="200.40" y="117.20" font-size="7.5" text-anchor="end"  fill="#222" stroke="#222" >10</text>
<text x="206.00" y="113.30" font-size="5" text-anchor="end"  fill="#222" stroke="#222" >−1</text>
<line x1="210.40" y1="109.17" x2="211.9" y2="109.17" stroke="#a0a0a0" stroke-width="0.8"/>
<line x1="210.40" y1="106.05" x2="211.9" y2="106.05" stroke="#a0a0a0" stroke-width="0.8"/>
<line x1="210.40" y1="103.84" x2="211.9" y2="103.84" stroke="#a0a0a0" stroke-width="0.8"/>
<line x1="211.90" y1="149.9" x2="211.90" y2="152.4" stroke="#a0a0a0" stroke-width="0.8"/>
<line x1="223.56" y1="149.9" x2="223.56" y2="151.4" stroke="#a0a0a0" stroke-width="0.8"/>
<line x1="232.61" y1="149.9" x2="232.61" y2="151.4" stroke="#a0a0a0" stroke-width="0.8"/>
<line x1="240.00" y1="149.9" x2="240.00" y2="151.4" stroke="#a0a0a0" stroke-width="0.8"/>
<line x1="246.25" y1="149.9" x2="246.25" y2="151.4" stroke="#a0a0a0" stroke-width="0.8"/>
<line x1="251.66" y1="149.9" x2="251.66" y2="151.4" stroke="#a0a0a0" stroke-width="0.8"/>
<line x1="256.43" y1="149.9" x2="256.43" y2="151.4" stroke="#a0a0a0" stroke-width="0.8"/>
<line x1="260.71" y1="149.9" x2="260.71" y2="152.4" stroke="#a0a0a0" stroke-width="0.8"/>
<line x1="288.80" y1="149.9" x2="288.80" y2="151.4" stroke="#a0a0a0" stroke-width="0.8"/>
<line x1="305.24" y1="149.9" x2="305.24" y2="151.4" stroke="#a0a0a0" stroke-width="0.8"/>
<line x1="316.90" y1="149.9" x2="316.90" y2="152.4" stroke="#a0a0a0" stroke-width="0.8"/>
<line x1="325.95" y1="149.9" x2="325.95" y2="151.4" stroke="#a0a0a0" stroke-width="0.8"/>
<line x1="333.34" y1="149.9" x2="333.34" y2="151.4" stroke="#a0a0a0" stroke-width="0.8"/>
<line x1="339.59" y1="149.9" x2="339.59" y2="151.4" stroke="#a0a0a0" stroke-width="0.8"/>
<line x1="345.00" y1="149.9" x2="345.00" y2="152.4" stroke="#a0a0a0" stroke-width="0.8"/>
<text x="212.20" y="159.80" font-size="7.8" text-anchor="middle"  fill="#222" stroke="#222" >3</text>
<text x="261.01" y="159.80" font-size="7.8" text-anchor="middle"  fill="#222" stroke="#222" >10</text>
<text x="317.20" y="159.80" font-size="7.8" text-anchor="middle"  fill="#222" stroke="#222" >40</text>
<text x="345.30" y="159.80" font-size="7.8" text-anchor="middle"  fill="#222" stroke="#222" >80</text>
<line x1="41.3" y1="207.55" x2="174.4" y2="207.55" stroke="#f6f6f6" stroke-width="0.6"/>
<line x1="41.3" y1="201.27" x2="174.4" y2="201.27" stroke="#f6f6f6" stroke-width="0.6"/>
<line x1="41.3" y1="196.81" x2="174.4" y2="196.81" stroke="#f6f6f6" stroke-width="0.6"/>
<line x1="41.3" y1="193.35" x2="174.4" y2="193.35" stroke="#f6f6f6" stroke-width="0.6"/>
<line x1="41.3" y1="190.52" x2="174.4" y2="190.52" stroke="#f6f6f6" stroke-width="0.6"/>
<line x1="41.3" y1="188.13" x2="174.4" y2="188.13" stroke="#f6f6f6" stroke-width="0.6"/>
<line x1="41.3" y1="186.06" x2="174.4" y2="186.06" stroke="#f6f6f6" stroke-width="0.6"/>
<line x1="41.3" y1="184.23" x2="174.4" y2="184.23" stroke="#f6f6f6" stroke-width="0.6"/>
<line x1="41.3" y1="182.60" x2="174.4" y2="182.60" stroke="#f6f6f6" stroke-width="0.6"/>
<line x1="52.96" y1="171.9" x2="52.96" y2="218.5" stroke="#f6f6f6" stroke-width="0.6"/>
<line x1="62.01" y1="171.9" x2="62.01" y2="218.5" stroke="#f6f6f6" stroke-width="0.6"/>
<line x1="69.40" y1="171.9" x2="69.40" y2="218.5" stroke="#f6f6f6" stroke-width="0.6"/>
<line x1="75.65" y1="171.9" x2="75.65" y2="218.5" stroke="#f6f6f6" stroke-width="0.6"/>
<line x1="81.06" y1="171.9" x2="81.06" y2="218.5" stroke="#f6f6f6" stroke-width="0.6"/>
<line x1="85.83" y1="171.9" x2="85.83" y2="218.5" stroke="#f6f6f6" stroke-width="0.6"/>
<line x1="90.11" y1="171.9" x2="90.11" y2="218.5" stroke="#f6f6f6" stroke-width="0.6"/>
<line x1="118.20" y1="171.9" x2="118.20" y2="218.5" stroke="#f6f6f6" stroke-width="0.6"/>
<line x1="134.64" y1="171.9" x2="134.64" y2="218.5" stroke="#f6f6f6" stroke-width="0.6"/>
<line x1="146.30" y1="171.9" x2="146.30" y2="218.5" stroke="#f6f6f6" stroke-width="0.6"/>
<line x1="155.35" y1="171.9" x2="155.35" y2="218.5" stroke="#f6f6f6" stroke-width="0.6"/>
<line x1="162.74" y1="171.9" x2="162.74" y2="218.5" stroke="#f6f6f6" stroke-width="0.6"/>
<line x1="168.99" y1="171.9" x2="168.99" y2="218.5" stroke="#f6f6f6" stroke-width="0.6"/>
<clipPath id="cp02"><rect x="38.3" y="171.9" width="136.10" height="46.60"/></clipPath><g clip-path="url(#cp02)">
<path d="M41.30,181.00 C43.58,182.23 50.72,186.63 55.00,188.40 C59.28,190.17 62.83,191.03 67.00,191.60 C71.17,192.17 75.33,191.90 80.00,191.80 C84.67,191.70 90.33,191.07 95.00,191.00 C99.67,190.93 103.27,191.17 108.00,191.40 C112.73,191.63 116.33,191.07 123.40,192.40 C130.47,193.73 141.90,196.53 150.40,199.40 C158.90,202.27 170.40,207.90 174.40,209.60" fill="none" stroke="#3a77b6" stroke-width="1.2" stroke-linejoin="round"/>
<path d="M41.30,180.40 C43.58,181.67 50.72,186.17 55.00,188.00 C59.28,189.83 62.83,190.80 67.00,191.40 C71.17,192.00 75.33,191.70 80.00,191.60 C84.67,191.50 90.33,191.00 95.00,190.80 C99.67,190.60 102.50,190.60 108.00,190.40 C113.50,190.20 121.33,189.53 128.00,189.60 C134.67,189.67 142.17,190.23 148.00,190.80 C153.83,191.37 158.60,192.13 163.00,193.00 C167.40,193.87 172.50,195.50 174.40,196.00" fill="none" stroke="#484848" stroke-width="1.05" stroke-linejoin="round"/>
<path d="M41.30,179.00 C43.58,180.00 50.72,183.33 55.00,185.00 C59.28,186.67 62.83,187.90 67.00,189.00 C71.17,190.10 75.33,190.50 80.00,191.60 C84.67,192.70 90.33,193.60 95.00,195.60 C99.67,197.60 104.00,201.27 108.00,203.60 C112.00,205.93 114.17,208.20 119.00,209.60 C123.83,211.00 132.40,212.00 137.00,212.00 C141.60,212.00 142.77,211.60 146.60,209.60 C150.43,207.60 156.17,202.67 160.00,200.00 C163.83,197.33 167.20,195.10 169.60,193.60 C172.00,192.10 173.60,191.43 174.40,191.00" fill="none" stroke="#d8413a" stroke-width="1.1" stroke-linejoin="round"/>
<circle cx="95.00" cy="191.00" r="1.65" fill="#1f5a92"/>
<circle cx="123.40" cy="192.40" r="1.65" fill="#1f5a92"/>
<circle cx="150.40" cy="199.40" r="1.65" fill="#1f5a92"/>
<circle cx="67.00" cy="189.00" r="1.85" fill="#c42030"/>
<circle cx="95.00" cy="195.60" r="1.85" fill="#c42030"/>
<circle cx="119.00" cy="209.60" r="1.85" fill="#c42030"/>
<circle cx="146.60" cy="209.60" r="1.85" fill="#c42030"/>
<circle cx="169.60" cy="193.60" r="1.85" fill="#c42030"/>
</g>
<rect x="41.3" y="171.9" width="133.10" height="46.60" fill="none" stroke="#a0a0a0" stroke-width="1.1"/>
<line x1="41.3" y1="171.9" x2="41.3" y2="218.5" stroke="#8a8a8a" stroke-width="1"/>
<line x1="38.80" y1="218.30" x2="41.3" y2="218.30" stroke="#a0a0a0" stroke-width="0.8"/>
<text x="29.80" y="221.00" font-size="7.5" text-anchor="end"  fill="#222" stroke="#222" >10</text>
<text x="35.40" y="217.10" font-size="5" text-anchor="end"  fill="#222" stroke="#222" >−4</text>
<line x1="39.80" y1="207.55" x2="41.3" y2="207.55" stroke="#a0a0a0" stroke-width="0.8"/>
<line x1="39.80" y1="201.27" x2="41.3" y2="201.27" stroke="#a0a0a0" stroke-width="0.8"/>
<line x1="39.80" y1="196.81" x2="41.3" y2="196.81" stroke="#a0a0a0" stroke-width="0.8"/>
<line x1="39.80" y1="193.35" x2="41.3" y2="193.35" stroke="#a0a0a0" stroke-width="0.8"/>
<line x1="39.80" y1="190.52" x2="41.3" y2="190.52" stroke="#a0a0a0" stroke-width="0.8"/>
<line x1="39.80" y1="188.13" x2="41.3" y2="188.13" stroke="#a0a0a0" stroke-width="0.8"/>
<line x1="39.80" y1="186.06" x2="41.3" y2="186.06" stroke="#a0a0a0" stroke-width="0.8"/>
<line x1="39.80" y1="184.23" x2="41.3" y2="184.23" stroke="#a0a0a0" stroke-width="0.8"/>
<line x1="38.80" y1="182.60" x2="41.3" y2="182.60" stroke="#a0a0a0" stroke-width="0.8"/>
<text x="29.80" y="185.30" font-size="7.5" text-anchor="end"  fill="#222" stroke="#222" >10</text>
<text x="35.40" y="181.40" font-size="5" text-anchor="end"  fill="#222" stroke="#222" >−3</text>
<line x1="39.80" y1="171.85" x2="41.3" y2="171.85" stroke="#a0a0a0" stroke-width="0.8"/>
<line x1="41.30" y1="218.5" x2="41.30" y2="221.0" stroke="#a0a0a0" stroke-width="0.8"/>
<line x1="52.96" y1="218.5" x2="52.96" y2="220.0" stroke="#a0a0a0" stroke-width="0.8"/>
<line x1="62.01" y1="218.5" x2="62.01" y2="220.0" stroke="#a0a0a0" stroke-width="0.8"/>
<line x1="69.40" y1="218.5" x2="69.40" y2="220.0" stroke="#a0a0a0" stroke-width="0.8"/>
<line x1="75.65" y1="218.5" x2="75.65" y2="220.0" stroke="#a0a0a0" stroke-width="0.8"/>
<line x1="81.06" y1="218.5" x2="81.06" y2="220.0" stroke="#a0a0a0" stroke-width="0.8"/>
<line x1="85.83" y1="218.5" x2="85.83" y2="220.0" stroke="#a0a0a0" stroke-width="0.8"/>
<line x1="90.11" y1="218.5" x2="90.11" y2="221.0" stroke="#a0a0a0" stroke-width="0.8"/>
<line x1="118.20" y1="218.5" x2="118.20" y2="220.0" stroke="#a0a0a0" stroke-width="0.8"/>
<line x1="134.64" y1="218.5" x2="134.64" y2="220.0" stroke="#a0a0a0" stroke-width="0.8"/>
<line x1="146.30" y1="218.5" x2="146.30" y2="221.0" stroke="#a0a0a0" stroke-width="0.8"/>
<line x1="155.35" y1="218.5" x2="155.35" y2="220.0" stroke="#a0a0a0" stroke-width="0.8"/>
<line x1="162.74" y1="218.5" x2="162.74" y2="220.0" stroke="#a0a0a0" stroke-width="0.8"/>
<line x1="168.99" y1="218.5" x2="168.99" y2="220.0" stroke="#a0a0a0" stroke-width="0.8"/>
<line x1="174.40" y1="218.5" x2="174.40" y2="221.0" stroke="#a0a0a0" stroke-width="0.8"/>
<text x="41.60" y="228.40" font-size="7.8" text-anchor="middle"  fill="#222" stroke="#222" >3</text>
<text x="90.41" y="228.40" font-size="7.8" text-anchor="middle"  fill="#222" stroke="#222" >10</text>
<text x="146.60" y="228.40" font-size="7.8" text-anchor="middle"  fill="#222" stroke="#222" >40</text>
<text x="174.70" y="228.40" font-size="7.8" text-anchor="middle"  fill="#222" stroke="#222" >80</text>
<line x1="211.9" y1="213.19" x2="345.0" y2="213.19" stroke="#f6f6f6" stroke-width="0.6"/>
<line x1="211.9" y1="210.08" x2="345.0" y2="210.08" stroke="#f6f6f6" stroke-width="0.6"/>
<line x1="211.9" y1="207.87" x2="345.0" y2="207.87" stroke="#f6f6f6" stroke-width="0.6"/>
<line x1="211.9" y1="206.16" x2="345.0" y2="206.16" stroke="#f6f6f6" stroke-width="0.6"/>
<line x1="211.9" y1="204.77" x2="345.0" y2="204.77" stroke="#f6f6f6" stroke-width="0.6"/>
<line x1="211.9" y1="203.58" x2="345.0" y2="203.58" stroke="#f6f6f6" stroke-width="0.6"/>
<line x1="211.9" y1="202.56" x2="345.0" y2="202.56" stroke="#f6f6f6" stroke-width="0.6"/>
<line x1="211.9" y1="201.66" x2="345.0" y2="201.66" stroke="#f6f6f6" stroke-width="0.6"/>
<line x1="211.9" y1="200.85" x2="345.0" y2="200.85" stroke="#f6f6f6" stroke-width="0.6"/>
<line x1="211.9" y1="195.54" x2="345.0" y2="195.54" stroke="#f6f6f6" stroke-width="0.6"/>
<line x1="211.9" y1="192.43" x2="345.0" y2="192.43" stroke="#f6f6f6" stroke-width="0.6"/>
<line x1="211.9" y1="190.22" x2="345.0" y2="190.22" stroke="#f6f6f6" stroke-width="0.6"/>
<line x1="211.9" y1="188.51" x2="345.0" y2="188.51" stroke="#f6f6f6" stroke-width="0.6"/>
<line x1="211.9" y1="187.12" x2="345.0" y2="187.12" stroke="#f6f6f6" stroke-width="0.6"/>
<line x1="211.9" y1="185.93" x2="345.0" y2="185.93" stroke="#f6f6f6" stroke-width="0.6"/>
<line x1="211.9" y1="184.91" x2="345.0" y2="184.91" stroke="#f6f6f6" stroke-width="0.6"/>
<line x1="211.9" y1="184.01" x2="345.0" y2="184.01" stroke="#f6f6f6" stroke-width="0.6"/>
<line x1="211.9" y1="183.20" x2="345.0" y2="183.20" stroke="#f6f6f6" stroke-width="0.6"/>
<line x1="211.9" y1="177.89" x2="345.0" y2="177.89" stroke="#f6f6f6" stroke-width="0.6"/>
<line x1="211.9" y1="174.78" x2="345.0" y2="174.78" stroke="#f6f6f6" stroke-width="0.6"/>
<line x1="211.9" y1="172.57" x2="345.0" y2="172.57" stroke="#f6f6f6" stroke-width="0.6"/>
<line x1="223.56" y1="171.9" x2="223.56" y2="218.5" stroke="#f6f6f6" stroke-width="0.6"/>
<line x1="232.61" y1="171.9" x2="232.61" y2="218.5" stroke="#f6f6f6" stroke-width="0.6"/>
<line x1="240.00" y1="171.9" x2="240.00" y2="218.5" stroke="#f6f6f6" stroke-width="0.6"/>
<line x1="246.25" y1="171.9" x2="246.25" y2="218.5" stroke="#f6f6f6" stroke-width="0.6"/>
<line x1="251.66" y1="171.9" x2="251.66" y2="218.5" stroke="#f6f6f6" stroke-width="0.6"/>
<line x1="256.43" y1="171.9" x2="256.43" y2="218.5" stroke="#f6f6f6" stroke-width="0.6"/>
<line x1="260.71" y1="171.9" x2="260.71" y2="218.5" stroke="#f6f6f6" stroke-width="0.6"/>
<line x1="288.80" y1="171.9" x2="288.80" y2="218.5" stroke="#f6f6f6" stroke-width="0.6"/>
<line x1="305.24" y1="171.9" x2="305.24" y2="218.5" stroke="#f6f6f6" stroke-width="0.6"/>
<line x1="316.90" y1="171.9" x2="316.90" y2="218.5" stroke="#f6f6f6" stroke-width="0.6"/>
<line x1="325.95" y1="171.9" x2="325.95" y2="218.5" stroke="#f6f6f6" stroke-width="0.6"/>
<line x1="333.34" y1="171.9" x2="333.34" y2="218.5" stroke="#f6f6f6" stroke-width="0.6"/>
<line x1="339.59" y1="171.9" x2="339.59" y2="218.5" stroke="#f6f6f6" stroke-width="0.6"/>
<clipPath id="cp12"><rect x="208.9" y="171.9" width="136.10" height="46.60"/></clipPath><g clip-path="url(#cp12)">
<path d="M211.90,186.20 C214.08,186.67 218.38,187.87 225.00,189.00 C231.62,190.13 242.77,191.60 251.60,193.00 C260.43,194.40 272.83,196.50 278.00,197.40 C283.17,198.30 277.17,197.37 282.60,198.40 C288.03,199.43 301.27,201.77 310.60,203.60 C319.93,205.43 332.87,208.23 338.60,209.40 C344.33,210.57 343.93,210.40 345.00,210.60" fill="none" stroke="#3a77b6" stroke-width="1.2" stroke-linejoin="round"/>
<path d="M211.90,185.00 C217.42,185.83 233.98,188.37 245.00,190.00 C256.02,191.63 267.17,193.30 278.00,194.80 C288.83,196.30 298.83,197.13 310.00,199.00 C321.17,200.87 339.17,204.83 345.00,206.00" fill="none" stroke="#484848" stroke-width="1.05" stroke-linejoin="round"/>
<path d="M211.90,190.00 C214.18,190.67 218.98,192.17 225.60,194.00 C232.22,195.83 242.87,199.12 251.60,201.00 C260.33,202.88 272.83,204.40 278.00,205.30 C283.17,206.20 277.17,205.72 282.60,206.40 C288.03,207.08 301.60,208.53 310.60,209.40 C319.60,210.27 330.87,211.17 336.60,211.60 C342.33,212.03 343.60,211.93 345.00,212.00" fill="none" stroke="#d8413a" stroke-width="1.1" stroke-linejoin="round"/>
<circle cx="225.00" cy="189.00" r="1.65" fill="#1f5a92"/>
<circle cx="251.60" cy="193.00" r="1.65" fill="#1f5a92"/>
<circle cx="282.60" cy="198.40" r="1.65" fill="#1f5a92"/>
<circle cx="310.60" cy="203.60" r="1.65" fill="#1f5a92"/>
<circle cx="338.60" cy="209.40" r="1.65" fill="#1f5a92"/>
<circle cx="225.60" cy="194.00" r="1.85" fill="#c42030"/>
<circle cx="251.60" cy="201.00" r="1.85" fill="#c42030"/>
<circle cx="282.60" cy="206.40" r="1.85" fill="#c42030"/>
<circle cx="310.60" cy="209.40" r="1.85" fill="#c42030"/>
<circle cx="336.60" cy="211.60" r="1.85" fill="#c42030"/>
</g>
<rect x="211.9" y="171.9" width="133.10" height="46.60" fill="none" stroke="#a0a0a0" stroke-width="1.1"/>
<line x1="211.9" y1="171.9" x2="211.9" y2="218.5" stroke="#8a8a8a" stroke-width="1"/>
<line x1="209.40" y1="218.50" x2="211.9" y2="218.50" stroke="#a0a0a0" stroke-width="0.8"/>
<text x="200.40" y="221.20" font-size="7.5" text-anchor="end"  fill="#222" stroke="#222" >10</text>
<text x="206.00" y="217.30" font-size="5" text-anchor="end"  fill="#222" stroke="#222" >−3</text>
<line x1="210.40" y1="213.19" x2="211.9" y2="213.19" stroke="#a0a0a0" stroke-width="0.8"/>
<line x1="210.40" y1="210.08" x2="211.9" y2="210.08" stroke="#a0a0a0" stroke-width="0.8"/>
<line x1="210.40" y1="207.87" x2="211.9" y2="207.87" stroke="#a0a0a0" stroke-width="0.8"/>
<line x1="210.40" y1="206.16" x2="211.9" y2="206.16" stroke="#a0a0a0" stroke-width="0.8"/>
<line x1="210.40" y1="204.77" x2="211.9" y2="204.77" stroke="#a0a0a0" stroke-width="0.8"/>
<line x1="210.40" y1="203.58" x2="211.9" y2="203.58" stroke="#a0a0a0" stroke-width="0.8"/>
<line x1="210.40" y1="202.56" x2="211.9" y2="202.56" stroke="#a0a0a0" stroke-width="0.8"/>
<line x1="210.40" y1="201.66" x2="211.9" y2="201.66" stroke="#a0a0a0" stroke-width="0.8"/>
<line x1="209.40" y1="200.85" x2="211.9" y2="200.85" stroke="#a0a0a0" stroke-width="0.8"/>
<text x="200.40" y="203.55" font-size="7.5" text-anchor="end"  fill="#222" stroke="#222" >10</text>
<text x="206.00" y="199.65" font-size="5" text-anchor="end"  fill="#222" stroke="#222" >−2</text>
<line x1="210.40" y1="195.54" x2="211.9" y2="195.54" stroke="#a0a0a0" stroke-width="0.8"/>
<line x1="210.40" y1="192.43" x2="211.9" y2="192.43" stroke="#a0a0a0" stroke-width="0.8"/>
<line x1="210.40" y1="190.22" x2="211.9" y2="190.22" stroke="#a0a0a0" stroke-width="0.8"/>
<line x1="210.40" y1="188.51" x2="211.9" y2="188.51" stroke="#a0a0a0" stroke-width="0.8"/>
<line x1="210.40" y1="187.12" x2="211.9" y2="187.12" stroke="#a0a0a0" stroke-width="0.8"/>
<line x1="210.40" y1="185.93" x2="211.9" y2="185.93" stroke="#a0a0a0" stroke-width="0.8"/>
<line x1="210.40" y1="184.91" x2="211.9" y2="184.91" stroke="#a0a0a0" stroke-width="0.8"/>
<line x1="210.40" y1="184.01" x2="211.9" y2="184.01" stroke="#a0a0a0" stroke-width="0.8"/>
<line x1="209.40" y1="183.20" x2="211.9" y2="183.20" stroke="#a0a0a0" stroke-width="0.8"/>
<text x="200.40" y="185.90" font-size="7.5" text-anchor="end"  fill="#222" stroke="#222" >10</text>
<text x="206.00" y="182.00" font-size="5" text-anchor="end"  fill="#222" stroke="#222" >−1</text>
<line x1="210.40" y1="177.89" x2="211.9" y2="177.89" stroke="#a0a0a0" stroke-width="0.8"/>
<line x1="210.40" y1="174.78" x2="211.9" y2="174.78" stroke="#a0a0a0" stroke-width="0.8"/>
<line x1="210.40" y1="172.57" x2="211.9" y2="172.57" stroke="#a0a0a0" stroke-width="0.8"/>
<line x1="211.90" y1="218.5" x2="211.90" y2="221.0" stroke="#a0a0a0" stroke-width="0.8"/>
<line x1="223.56" y1="218.5" x2="223.56" y2="220.0" stroke="#a0a0a0" stroke-width="0.8"/>
<line x1="232.61" y1="218.5" x2="232.61" y2="220.0" stroke="#a0a0a0" stroke-width="0.8"/>
<line x1="240.00" y1="218.5" x2="240.00" y2="220.0" stroke="#a0a0a0" stroke-width="0.8"/>
<line x1="246.25" y1="218.5" x2="246.25" y2="220.0" stroke="#a0a0a0" stroke-width="0.8"/>
<line x1="251.66" y1="218.5" x2="251.66" y2="220.0" stroke="#a0a0a0" stroke-width="0.8"/>
<line x1="256.43" y1="218.5" x2="256.43" y2="220.0" stroke="#a0a0a0" stroke-width="0.8"/>
<line x1="260.71" y1="218.5" x2="260.71" y2="221.0" stroke="#a0a0a0" stroke-width="0.8"/>
<line x1="288.80" y1="218.5" x2="288.80" y2="220.0" stroke="#a0a0a0" stroke-width="0.8"/>
<line x1="305.24" y1="218.5" x2="305.24" y2="220.0" stroke="#a0a0a0" stroke-width="0.8"/>
<line x1="316.90" y1="218.5" x2="316.90" y2="221.0" stroke="#a0a0a0" stroke-width="0.8"/>
<line x1="325.95" y1="218.5" x2="325.95" y2="220.0" stroke="#a0a0a0" stroke-width="0.8"/>
<line x1="333.34" y1="218.5" x2="333.34" y2="220.0" stroke="#a0a0a0" stroke-width="0.8"/>
<line x1="339.59" y1="218.5" x2="339.59" y2="220.0" stroke="#a0a0a0" stroke-width="0.8"/>
<line x1="345.00" y1="218.5" x2="345.00" y2="221.0" stroke="#a0a0a0" stroke-width="0.8"/>
<text x="212.20" y="228.40" font-size="7.8" text-anchor="middle"  fill="#222" stroke="#222" >3</text>
<text x="261.01" y="228.40" font-size="7.8" text-anchor="middle"  fill="#222" stroke="#222" >10</text>
<text x="317.20" y="228.40" font-size="7.8" text-anchor="middle"  fill="#222" stroke="#222" >40</text>
<text x="345.30" y="228.40" font-size="7.8" text-anchor="middle"  fill="#222" stroke="#222" >80</text>
<line x1="41.4" y1="285.26" x2="174.4" y2="285.26" stroke="#f6f6f6" stroke-width="0.6"/>
<line x1="41.4" y1="283.31" x2="174.4" y2="283.31" stroke="#f6f6f6" stroke-width="0.6"/>
<line x1="41.4" y1="281.62" x2="174.4" y2="281.62" stroke="#f6f6f6" stroke-width="0.6"/>
<line x1="41.4" y1="280.13" x2="174.4" y2="280.13" stroke="#f6f6f6" stroke-width="0.6"/>
<line x1="41.4" y1="278.80" x2="174.4" y2="278.80" stroke="#f6f6f6" stroke-width="0.6"/>
<line x1="41.4" y1="270.04" x2="174.4" y2="270.04" stroke="#f6f6f6" stroke-width="0.6"/>
<line x1="41.4" y1="264.92" x2="174.4" y2="264.92" stroke="#f6f6f6" stroke-width="0.6"/>
<line x1="41.4" y1="261.28" x2="174.4" y2="261.28" stroke="#f6f6f6" stroke-width="0.6"/>
<line x1="41.4" y1="258.46" x2="174.4" y2="258.46" stroke="#f6f6f6" stroke-width="0.6"/>
<line x1="41.4" y1="256.16" x2="174.4" y2="256.16" stroke="#f6f6f6" stroke-width="0.6"/>
<line x1="41.4" y1="254.21" x2="174.4" y2="254.21" stroke="#f6f6f6" stroke-width="0.6"/>
<line x1="41.4" y1="252.52" x2="174.4" y2="252.52" stroke="#f6f6f6" stroke-width="0.6"/>
<line x1="41.4" y1="251.03" x2="174.4" y2="251.03" stroke="#f6f6f6" stroke-width="0.6"/>
<line x1="41.4" y1="249.70" x2="174.4" y2="249.70" stroke="#f6f6f6" stroke-width="0.6"/>
<line x1="53.05" y1="240.8" x2="53.05" y2="287.5" stroke="#f6f6f6" stroke-width="0.6"/>
<line x1="62.09" y1="240.8" x2="62.09" y2="287.5" stroke="#f6f6f6" stroke-width="0.6"/>
<line x1="69.48" y1="240.8" x2="69.48" y2="287.5" stroke="#f6f6f6" stroke-width="0.6"/>
<line x1="75.72" y1="240.8" x2="75.72" y2="287.5" stroke="#f6f6f6" stroke-width="0.6"/>
<line x1="81.13" y1="240.8" x2="81.13" y2="287.5" stroke="#f6f6f6" stroke-width="0.6"/>
<line x1="85.90" y1="240.8" x2="85.90" y2="287.5" stroke="#f6f6f6" stroke-width="0.6"/>
<line x1="90.17" y1="240.8" x2="90.17" y2="287.5" stroke="#f6f6f6" stroke-width="0.6"/>
<line x1="118.25" y1="240.8" x2="118.25" y2="287.5" stroke="#f6f6f6" stroke-width="0.6"/>
<line x1="134.67" y1="240.8" x2="134.67" y2="287.5" stroke="#f6f6f6" stroke-width="0.6"/>
<line x1="146.32" y1="240.8" x2="146.32" y2="287.5" stroke="#f6f6f6" stroke-width="0.6"/>
<line x1="155.36" y1="240.8" x2="155.36" y2="287.5" stroke="#f6f6f6" stroke-width="0.6"/>
<line x1="162.75" y1="240.8" x2="162.75" y2="287.5" stroke="#f6f6f6" stroke-width="0.6"/>
<line x1="168.99" y1="240.8" x2="168.99" y2="287.5" stroke="#f6f6f6" stroke-width="0.6"/>
<clipPath id="cp03"><rect x="38.4" y="240.8" width="136.00" height="46.70"/></clipPath><g clip-path="url(#cp03)">
<path d="M41.40,248.50 C43.67,249.32 50.73,252.05 55.00,253.40 C59.27,254.75 62.83,255.97 67.00,256.60 C71.17,257.23 75.17,257.27 80.00,257.20 C84.83,257.13 91.33,256.43 96.00,256.20 C100.67,255.97 103.33,255.73 108.00,255.80 C112.67,255.87 116.83,255.13 124.00,256.60 C131.17,258.07 142.60,262.03 151.00,264.60 C159.40,267.17 170.50,270.77 174.40,272.00" fill="none" stroke="#3a77b6" stroke-width="1.2" stroke-linejoin="round"/>
<path d="M41.40,248.00 C43.67,248.83 50.73,251.60 55.00,253.00 C59.27,254.40 62.83,255.73 67.00,256.40 C71.17,257.07 75.33,257.07 80.00,257.00 C84.67,256.93 90.33,256.27 95.00,256.00 C99.67,255.73 103.83,255.67 108.00,255.40 C112.17,255.13 114.67,254.47 120.00,254.40 C125.33,254.33 133.33,254.57 140.00,255.00 C146.67,255.43 154.27,256.23 160.00,257.00 C165.73,257.77 172.00,259.17 174.40,259.60" fill="none" stroke="#484848" stroke-width="1.05" stroke-linejoin="round"/>
<path d="M41.40,246.00 C43.67,247.00 50.57,250.27 55.00,252.00 C59.43,253.73 63.83,255.13 68.00,256.40 C72.17,257.67 75.50,258.27 80.00,259.60 C84.50,260.93 90.33,263.00 95.00,264.40 C99.67,265.80 103.67,266.40 108.00,268.00 C112.33,269.60 116.50,272.43 121.00,274.00 C125.50,275.57 130.33,276.47 135.00,277.40 C139.67,278.33 142.43,278.67 149.00,279.60 C155.57,280.53 170.17,282.43 174.40,283.00" fill="none" stroke="#d8413a" stroke-width="1.1" stroke-linejoin="round"/>
<circle cx="96.00" cy="256.20" r="1.65" fill="#1f5a92"/>
<circle cx="124.00" cy="256.60" r="1.65" fill="#1f5a92"/>
<circle cx="151.00" cy="264.60" r="1.65" fill="#1f5a92"/>
<circle cx="68.00" cy="256.40" r="1.85" fill="#c42030"/>
<circle cx="95.00" cy="264.40" r="1.85" fill="#c42030"/>
<circle cx="121.00" cy="274.00" r="1.85" fill="#c42030"/>
<circle cx="149.00" cy="279.60" r="1.85" fill="#c42030"/>
</g>
<rect x="41.4" y="240.8" width="133.00" height="46.70" fill="none" stroke="#a0a0a0" stroke-width="1.1"/>
<line x1="41.4" y1="240.8" x2="41.4" y2="287.5" stroke="#8a8a8a" stroke-width="1"/>
<line x1="39.90" y1="287.56" x2="41.4" y2="287.56" stroke="#a0a0a0" stroke-width="0.8"/>
<line x1="39.90" y1="285.26" x2="41.4" y2="285.26" stroke="#a0a0a0" stroke-width="0.8"/>
<line x1="39.90" y1="283.31" x2="41.4" y2="283.31" stroke="#a0a0a0" stroke-width="0.8"/>
<line x1="39.90" y1="281.62" x2="41.4" y2="281.62" stroke="#a0a0a0" stroke-width="0.8"/>
<line x1="39.90" y1="280.13" x2="41.4" y2="280.13" stroke="#a0a0a0" stroke-width="0.8"/>
<line x1="38.90" y1="278.80" x2="41.4" y2="278.80" stroke="#a0a0a0" stroke-width="0.8"/>
<text x="29.90" y="281.50" font-size="7.5" text-anchor="end"  fill="#222" stroke="#222" >10</text>
<text x="35.50" y="277.60" font-size="5" text-anchor="end"  fill="#222" stroke="#222" >−4</text>
<line x1="39.90" y1="270.04" x2="41.4" y2="270.04" stroke="#a0a0a0" stroke-width="0.8"/>
<line x1="39.90" y1="264.92" x2="41.4" y2="264.92" stroke="#a0a0a0" stroke-width="0.8"/>
<line x1="39.90" y1="261.28" x2="41.4" y2="261.28" stroke="#a0a0a0" stroke-width="0.8"/>
<line x1="39.90" y1="258.46" x2="41.4" y2="258.46" stroke="#a0a0a0" stroke-width="0.8"/>
<line x1="39.90" y1="256.16" x2="41.4" y2="256.16" stroke="#a0a0a0" stroke-width="0.8"/>
<line x1="39.90" y1="254.21" x2="41.4" y2="254.21" stroke="#a0a0a0" stroke-width="0.8"/>
<line x1="39.90" y1="252.52" x2="41.4" y2="252.52" stroke="#a0a0a0" stroke-width="0.8"/>
<line x1="39.90" y1="251.03" x2="41.4" y2="251.03" stroke="#a0a0a0" stroke-width="0.8"/>
<line x1="38.90" y1="249.70" x2="41.4" y2="249.70" stroke="#a0a0a0" stroke-width="0.8"/>
<text x="29.90" y="252.40" font-size="7.5" text-anchor="end"  fill="#222" stroke="#222" >10</text>
<text x="35.50" y="248.50" font-size="5" text-anchor="end"  fill="#222" stroke="#222" >−3</text>
<line x1="39.90" y1="240.94" x2="41.4" y2="240.94" stroke="#a0a0a0" stroke-width="0.8"/>
<line x1="41.40" y1="287.5" x2="41.40" y2="290.0" stroke="#a0a0a0" stroke-width="0.8"/>
<line x1="53.05" y1="287.5" x2="53.05" y2="289.0" stroke="#a0a0a0" stroke-width="0.8"/>
<line x1="62.09" y1="287.5" x2="62.09" y2="289.0" stroke="#a0a0a0" stroke-width="0.8"/>
<line x1="69.48" y1="287.5" x2="69.48" y2="289.0" stroke="#a0a0a0" stroke-width="0.8"/>
<line x1="75.72" y1="287.5" x2="75.72" y2="289.0" stroke="#a0a0a0" stroke-width="0.8"/>
<line x1="81.13" y1="287.5" x2="81.13" y2="289.0" stroke="#a0a0a0" stroke-width="0.8"/>
<line x1="85.90" y1="287.5" x2="85.90" y2="289.0" stroke="#a0a0a0" stroke-width="0.8"/>
<line x1="90.17" y1="287.5" x2="90.17" y2="290.0" stroke="#a0a0a0" stroke-width="0.8"/>
<line x1="118.25" y1="287.5" x2="118.25" y2="289.0" stroke="#a0a0a0" stroke-width="0.8"/>
<line x1="134.67" y1="287.5" x2="134.67" y2="289.0" stroke="#a0a0a0" stroke-width="0.8"/>
<line x1="146.32" y1="287.5" x2="146.32" y2="290.0" stroke="#a0a0a0" stroke-width="0.8"/>
<line x1="155.36" y1="287.5" x2="155.36" y2="289.0" stroke="#a0a0a0" stroke-width="0.8"/>
<line x1="162.75" y1="287.5" x2="162.75" y2="289.0" stroke="#a0a0a0" stroke-width="0.8"/>
<line x1="168.99" y1="287.5" x2="168.99" y2="289.0" stroke="#a0a0a0" stroke-width="0.8"/>
<line x1="174.40" y1="287.5" x2="174.40" y2="290.0" stroke="#a0a0a0" stroke-width="0.8"/>
<text x="41.70" y="297.40" font-size="7.8" text-anchor="middle"  fill="#222" stroke="#222" >3</text>
<text x="90.47" y="297.40" font-size="7.8" text-anchor="middle"  fill="#222" stroke="#222" >10</text>
<text x="146.62" y="297.40" font-size="7.8" text-anchor="middle"  fill="#222" stroke="#222" >40</text>
<text x="174.70" y="297.40" font-size="7.8" text-anchor="middle"  fill="#222" stroke="#222" >80</text>
<line x1="212.4" y1="282.17" x2="345.7" y2="282.17" stroke="#f6f6f6" stroke-width="0.6"/>
<line x1="212.4" y1="279.05" x2="345.7" y2="279.05" stroke="#f6f6f6" stroke-width="0.6"/>
<line x1="212.4" y1="276.84" x2="345.7" y2="276.84" stroke="#f6f6f6" stroke-width="0.6"/>
<line x1="212.4" y1="275.13" x2="345.7" y2="275.13" stroke="#f6f6f6" stroke-width="0.6"/>
<line x1="212.4" y1="273.73" x2="345.7" y2="273.73" stroke="#f6f6f6" stroke-width="0.6"/>
<line x1="212.4" y1="272.54" x2="345.7" y2="272.54" stroke="#f6f6f6" stroke-width="0.6"/>
<line x1="212.4" y1="271.52" x2="345.7" y2="271.52" stroke="#f6f6f6" stroke-width="0.6"/>
<line x1="212.4" y1="270.61" x2="345.7" y2="270.61" stroke="#f6f6f6" stroke-width="0.6"/>
<line x1="212.4" y1="269.80" x2="345.7" y2="269.80" stroke="#f6f6f6" stroke-width="0.6"/>
<line x1="212.4" y1="264.47" x2="345.7" y2="264.47" stroke="#f6f6f6" stroke-width="0.6"/>
<line x1="212.4" y1="261.35" x2="345.7" y2="261.35" stroke="#f6f6f6" stroke-width="0.6"/>
<line x1="212.4" y1="259.14" x2="345.7" y2="259.14" stroke="#f6f6f6" stroke-width="0.6"/>
<line x1="212.4" y1="257.43" x2="345.7" y2="257.43" stroke="#f6f6f6" stroke-width="0.6"/>
<line x1="212.4" y1="256.03" x2="345.7" y2="256.03" stroke="#f6f6f6" stroke-width="0.6"/>
<line x1="212.4" y1="254.84" x2="345.7" y2="254.84" stroke="#f6f6f6" stroke-width="0.6"/>
<line x1="212.4" y1="253.82" x2="345.7" y2="253.82" stroke="#f6f6f6" stroke-width="0.6"/>
<line x1="212.4" y1="252.91" x2="345.7" y2="252.91" stroke="#f6f6f6" stroke-width="0.6"/>
<line x1="212.4" y1="252.10" x2="345.7" y2="252.10" stroke="#f6f6f6" stroke-width="0.6"/>
<line x1="212.4" y1="246.77" x2="345.7" y2="246.77" stroke="#f6f6f6" stroke-width="0.6"/>
<line x1="212.4" y1="243.65" x2="345.7" y2="243.65" stroke="#f6f6f6" stroke-width="0.6"/>
<line x1="212.4" y1="241.44" x2="345.7" y2="241.44" stroke="#f6f6f6" stroke-width="0.6"/>
<line x1="224.08" y1="240.8" x2="224.08" y2="287.5" stroke="#f6f6f6" stroke-width="0.6"/>
<line x1="233.14" y1="240.8" x2="233.14" y2="287.5" stroke="#f6f6f6" stroke-width="0.6"/>
<line x1="240.54" y1="240.8" x2="240.54" y2="287.5" stroke="#f6f6f6" stroke-width="0.6"/>
<line x1="246.80" y1="240.8" x2="246.80" y2="287.5" stroke="#f6f6f6" stroke-width="0.6"/>
<line x1="252.22" y1="240.8" x2="252.22" y2="287.5" stroke="#f6f6f6" stroke-width="0.6"/>
<line x1="257.00" y1="240.8" x2="257.00" y2="287.5" stroke="#f6f6f6" stroke-width="0.6"/>
<line x1="261.28" y1="240.8" x2="261.28" y2="287.5" stroke="#f6f6f6" stroke-width="0.6"/>
<line x1="289.42" y1="240.8" x2="289.42" y2="287.5" stroke="#f6f6f6" stroke-width="0.6"/>
<line x1="305.88" y1="240.8" x2="305.88" y2="287.5" stroke="#f6f6f6" stroke-width="0.6"/>
<line x1="317.56" y1="240.8" x2="317.56" y2="287.5" stroke="#f6f6f6" stroke-width="0.6"/>
<line x1="326.62" y1="240.8" x2="326.62" y2="287.5" stroke="#f6f6f6" stroke-width="0.6"/>
<line x1="334.02" y1="240.8" x2="334.02" y2="287.5" stroke="#f6f6f6" stroke-width="0.6"/>
<line x1="340.28" y1="240.8" x2="340.28" y2="287.5" stroke="#f6f6f6" stroke-width="0.6"/>
<clipPath id="cp13"><rect x="209.4" y="240.8" width="136.30" height="46.70"/></clipPath><g clip-path="url(#cp13)">
<path d="M212.40,254.80 C214.60,255.17 219.07,255.90 225.60,257.00 C232.13,258.10 242.87,259.73 251.60,261.40 C260.33,263.07 272.77,265.90 278.00,267.00 C283.23,268.10 277.57,267.17 283.00,268.00 C288.43,268.83 301.50,270.50 310.60,272.00 C319.70,273.50 331.75,275.93 337.60,277.00 C343.45,278.07 344.35,278.17 345.70,278.40" fill="none" stroke="#3a77b6" stroke-width="1.2" stroke-linejoin="round"/>
<path d="M212.40,254.60 C217.83,255.37 234.07,257.70 245.00,259.20 C255.93,260.70 267.17,262.25 278.00,263.60 C288.83,264.95 298.72,265.47 310.00,267.30 C321.28,269.13 339.75,273.38 345.70,274.60" fill="none" stroke="#484848" stroke-width="1.05" stroke-linejoin="round"/>
<path d="M212.40,258.10 C214.60,258.77 221.00,260.78 225.60,262.10 C230.20,263.42 235.60,265.02 240.00,266.00 C244.40,266.98 247.83,267.17 252.00,268.00 C256.17,268.83 260.67,270.10 265.00,271.00 C269.33,271.90 275.00,272.73 278.00,273.40 C281.00,274.07 277.57,273.97 283.00,275.00 C288.43,276.03 301.67,277.77 310.60,279.60 C319.53,281.43 330.75,284.52 336.60,286.00 C342.45,287.48 344.18,288.08 345.70,288.50" fill="none" stroke="#d8413a" stroke-width="1.1" stroke-linejoin="round"/>
<circle cx="225.00" cy="257.00" r="1.65" fill="#1f5a92"/>
<circle cx="251.60" cy="261.40" r="1.65" fill="#1f5a92"/>
<circle cx="283.00" cy="268.00" r="1.65" fill="#1f5a92"/>
<circle cx="310.60" cy="272.00" r="1.65" fill="#1f5a92"/>
<circle cx="337.60" cy="277.00" r="1.65" fill="#1f5a92"/>
<circle cx="225.60" cy="262.00" r="1.85" fill="#c42030"/>
<circle cx="252.00" cy="268.00" r="1.85" fill="#c42030"/>
<circle cx="283.00" cy="275.00" r="1.85" fill="#c42030"/>
<circle cx="310.60" cy="279.60" r="1.85" fill="#c42030"/>
<circle cx="336.60" cy="286.00" r="1.85" fill="#c42030"/>
</g>
<rect x="212.4" y="240.8" width="133.30" height="46.70" fill="none" stroke="#a0a0a0" stroke-width="1.1"/>
<line x1="212.4" y1="240.8" x2="212.4" y2="287.5" stroke="#8a8a8a" stroke-width="1"/>
<line x1="209.90" y1="287.50" x2="212.4" y2="287.50" stroke="#a0a0a0" stroke-width="0.8"/>
<text x="200.90" y="290.20" font-size="7.5" text-anchor="end"  fill="#222" stroke="#222" >10</text>
<text x="206.50" y="286.30" font-size="5" text-anchor="end"  fill="#222" stroke="#222" >−3</text>
<line x1="210.90" y1="282.17" x2="212.4" y2="282.17" stroke="#a0a0a0" stroke-width="0.8"/>
<line x1="210.90" y1="279.05" x2="212.4" y2="279.05" stroke="#a0a0a0" stroke-width="0.8"/>
<line x1="210.90" y1="276.84" x2="212.4" y2="276.84" stroke="#a0a0a0" stroke-width="0.8"/>
<line x1="210.90" y1="275.13" x2="212.4" y2="275.13" stroke="#a0a0a0" stroke-width="0.8"/>
<line x1="210.90" y1="273.73" x2="212.4" y2="273.73" stroke="#a0a0a0" stroke-width="0.8"/>
<line x1="210.90" y1="272.54" x2="212.4" y2="272.54" stroke="#a0a0a0" stroke-width="0.8"/>
<line x1="210.90" y1="271.52" x2="212.4" y2="271.52" stroke="#a0a0a0" stroke-width="0.8"/>
<line x1="210.90" y1="270.61" x2="212.4" y2="270.61" stroke="#a0a0a0" stroke-width="0.8"/>
<line x1="209.90" y1="269.80" x2="212.4" y2="269.80" stroke="#a0a0a0" stroke-width="0.8"/>
<text x="200.90" y="272.50" font-size="7.5" text-anchor="end"  fill="#222" stroke="#222" >10</text>
<text x="206.50" y="268.60" font-size="5" text-anchor="end"  fill="#222" stroke="#222" >−2</text>
<line x1="210.90" y1="264.47" x2="212.4" y2="264.47" stroke="#a0a0a0" stroke-width="0.8"/>
<line x1="210.90" y1="261.35" x2="212.4" y2="261.35" stroke="#a0a0a0" stroke-width="0.8"/>
<line x1="210.90" y1="259.14" x2="212.4" y2="259.14" stroke="#a0a0a0" stroke-width="0.8"/>
<line x1="210.90" y1="257.43" x2="212.4" y2="257.43" stroke="#a0a0a0" stroke-width="0.8"/>
<line x1="210.90" y1="256.03" x2="212.4" y2="256.03" stroke="#a0a0a0" stroke-width="0.8"/>
<line x1="210.90" y1="254.84" x2="212.4" y2="254.84" stroke="#a0a0a0" stroke-width="0.8"/>
<line x1="210.90" y1="253.82" x2="212.4" y2="253.82" stroke="#a0a0a0" stroke-width="0.8"/>
<line x1="210.90" y1="252.91" x2="212.4" y2="252.91" stroke="#a0a0a0" stroke-width="0.8"/>
<line x1="209.90" y1="252.10" x2="212.4" y2="252.10" stroke="#a0a0a0" stroke-width="0.8"/>
<text x="200.90" y="254.80" font-size="7.5" text-anchor="end"  fill="#222" stroke="#222" >10</text>
<text x="206.50" y="250.90" font-size="5" text-anchor="end"  fill="#222" stroke="#222" >−1</text>
<line x1="210.90" y1="246.77" x2="212.4" y2="246.77" stroke="#a0a0a0" stroke-width="0.8"/>
<line x1="210.90" y1="243.65" x2="212.4" y2="243.65" stroke="#a0a0a0" stroke-width="0.8"/>
<line x1="210.90" y1="241.44" x2="212.4" y2="241.44" stroke="#a0a0a0" stroke-width="0.8"/>
<line x1="212.40" y1="287.5" x2="212.40" y2="290.0" stroke="#a0a0a0" stroke-width="0.8"/>
<line x1="224.08" y1="287.5" x2="224.08" y2="289.0" stroke="#a0a0a0" stroke-width="0.8"/>
<line x1="233.14" y1="287.5" x2="233.14" y2="289.0" stroke="#a0a0a0" stroke-width="0.8"/>
<line x1="240.54" y1="287.5" x2="240.54" y2="289.0" stroke="#a0a0a0" stroke-width="0.8"/>
<line x1="246.80" y1="287.5" x2="246.80" y2="289.0" stroke="#a0a0a0" stroke-width="0.8"/>
<line x1="252.22" y1="287.5" x2="252.22" y2="289.0" stroke="#a0a0a0" stroke-width="0.8"/>
<line x1="257.00" y1="287.5" x2="257.00" y2="289.0" stroke="#a0a0a0" stroke-width="0.8"/>
<line x1="261.28" y1="287.5" x2="261.28" y2="290.0" stroke="#a0a0a0" stroke-width="0.8"/>
<line x1="289.42" y1="287.5" x2="289.42" y2="289.0" stroke="#a0a0a0" stroke-width="0.8"/>
<line x1="305.88" y1="287.5" x2="305.88" y2="289.0" stroke="#a0a0a0" stroke-width="0.8"/>
<line x1="317.56" y1="287.5" x2="317.56" y2="290.0" stroke="#a0a0a0" stroke-width="0.8"/>
<line x1="326.62" y1="287.5" x2="326.62" y2="289.0" stroke="#a0a0a0" stroke-width="0.8"/>
<line x1="334.02" y1="287.5" x2="334.02" y2="289.0" stroke="#a0a0a0" stroke-width="0.8"/>
<line x1="340.28" y1="287.5" x2="340.28" y2="289.0" stroke="#a0a0a0" stroke-width="0.8"/>
<line x1="345.70" y1="287.5" x2="345.70" y2="290.0" stroke="#a0a0a0" stroke-width="0.8"/>
<text x="212.70" y="297.40" font-size="7.8" text-anchor="middle"  fill="#222" stroke="#222" >3</text>
<text x="261.58" y="297.40" font-size="7.8" text-anchor="middle"  fill="#222" stroke="#222" >10</text>
<text x="317.86" y="297.40" font-size="7.8" text-anchor="middle"  fill="#222" stroke="#222" >40</text>
<text x="346.00" y="297.40" font-size="7.8" text-anchor="middle"  fill="#222" stroke="#222" >80</text>
<line x1="41.0" y1="20.5" x2="173.9" y2="20.5" stroke="#5688b8" stroke-width="1"/>
<line x1="52.64" y1="20.5" x2="52.64" y2="18.7" stroke="#4a6f98" stroke-width="0.9"/>
<line x1="61.68" y1="20.5" x2="61.68" y2="18.7" stroke="#4a6f98" stroke-width="0.9"/>
<line x1="69.06" y1="20.5" x2="69.06" y2="18.7" stroke="#4a6f98" stroke-width="0.9"/>
<line x1="75.30" y1="20.5" x2="75.30" y2="18.7" stroke="#4a6f98" stroke-width="0.9"/>
<line x1="80.70" y1="20.5" x2="80.70" y2="18.7" stroke="#4a6f98" stroke-width="0.9"/>
<line x1="85.47" y1="20.5" x2="85.47" y2="18.7" stroke="#4a6f98" stroke-width="0.9"/>
<line x1="89.73" y1="20.5" x2="89.73" y2="18.3" stroke="#4a6f98" stroke-width="0.9"/>
<line x1="117.79" y1="20.5" x2="117.79" y2="18.7" stroke="#4a6f98" stroke-width="0.9"/>
<line x1="134.20" y1="20.5" x2="134.20" y2="18.7" stroke="#4a6f98" stroke-width="0.9"/>
<line x1="145.84" y1="20.5" x2="145.84" y2="18.7" stroke="#4a6f98" stroke-width="0.9"/>
<line x1="154.88" y1="20.5" x2="154.88" y2="18.7" stroke="#4a6f98" stroke-width="0.9"/>
<line x1="162.26" y1="20.5" x2="162.26" y2="18.3" stroke="#4a6f98" stroke-width="0.9"/>
<line x1="168.50" y1="20.5" x2="168.50" y2="18.7" stroke="#4a6f98" stroke-width="0.9"/>
<line x1="173.90" y1="20.5" x2="173.90" y2="18.3" stroke="#4a6f98" stroke-width="0.9"/>
<text x="89.73" y="14.6" font-size="7.6" text-anchor="middle" fill="#5a80ac">1</text>
<text x="162.26" y="14.6" font-size="7.6" text-anchor="middle" fill="#5a80ac">6</text>
<text x="173.90" y="14.6" font-size="7.6" text-anchor="middle" fill="#5a80ac">8</text>
<text x="107.75" y="7.5" font-size="9" text-anchor="middle" font-style="italic" fill="#222" stroke="#222">Nt</text>
<line x1="41.0" y1="34.8" x2="173.9" y2="34.8" stroke="#f2a8a8" stroke-width="2.3"/>
<line x1="52.64" y1="35.099999999999994" x2="52.64" y2="32.3" stroke="#d88890" stroke-width="0.9"/>
<line x1="69.06" y1="35.099999999999994" x2="69.06" y2="31.899999999999995" stroke="#d88890" stroke-width="0.9"/>
<line x1="80.70" y1="35.099999999999994" x2="80.70" y2="32.3" stroke="#d88890" stroke-width="0.9"/>
<line x1="89.73" y1="35.099999999999994" x2="89.73" y2="31.899999999999995" stroke="#d88890" stroke-width="0.9"/>
<line x1="97.11" y1="35.099999999999994" x2="97.11" y2="32.3" stroke="#d88890" stroke-width="0.9"/>
<line x1="103.35" y1="35.099999999999994" x2="103.35" y2="32.3" stroke="#d88890" stroke-width="0.9"/>
<line x1="108.76" y1="35.099999999999994" x2="108.76" y2="32.3" stroke="#d88890" stroke-width="0.9"/>
<line x1="113.52" y1="35.099999999999994" x2="113.52" y2="32.3" stroke="#d88890" stroke-width="0.9"/>
<line x1="117.79" y1="35.099999999999994" x2="117.79" y2="31.899999999999995" stroke="#d88890" stroke-width="0.9"/>
<line x1="145.84" y1="35.099999999999994" x2="145.84" y2="32.3" stroke="#d88890" stroke-width="0.9"/>
<line x1="162.26" y1="35.099999999999994" x2="162.26" y2="32.3" stroke="#d88890" stroke-width="0.9"/>
<line x1="173.90" y1="35.099999999999994" x2="173.90" y2="31.899999999999995" stroke="#d88890" stroke-width="0.9"/>
<text x="69.06" y="28.5" font-size="7.6" text-anchor="middle" fill="#d04545">3</text>
<text x="89.73" y="28.5" font-size="7.6" text-anchor="middle" fill="#d04545">5</text>
<text x="117.79" y="28.5" font-size="7.6" text-anchor="middle" fill="#d04545">10</text>
<text x="173.90" y="28.5" font-size="7.6" text-anchor="middle" fill="#d04545">40</text>
<line x1="211.3" y1="20.5" x2="344.4" y2="20.5" stroke="#5688b8" stroke-width="1"/>
<line x1="222.96" y1="20.5" x2="222.96" y2="18.7" stroke="#4a6f98" stroke-width="0.9"/>
<line x1="232.01" y1="20.5" x2="232.01" y2="18.7" stroke="#4a6f98" stroke-width="0.9"/>
<line x1="239.40" y1="20.5" x2="239.40" y2="18.7" stroke="#4a6f98" stroke-width="0.9"/>
<line x1="245.65" y1="20.5" x2="245.65" y2="18.7" stroke="#4a6f98" stroke-width="0.9"/>
<line x1="251.06" y1="20.5" x2="251.06" y2="18.7" stroke="#4a6f98" stroke-width="0.9"/>
<line x1="255.83" y1="20.5" x2="255.83" y2="18.7" stroke="#4a6f98" stroke-width="0.9"/>
<line x1="260.11" y1="20.5" x2="260.11" y2="18.3" stroke="#4a6f98" stroke-width="0.9"/>
<line x1="288.20" y1="20.5" x2="288.20" y2="18.7" stroke="#4a6f98" stroke-width="0.9"/>
<line x1="304.64" y1="20.5" x2="304.64" y2="18.7" stroke="#4a6f98" stroke-width="0.9"/>
<line x1="316.30" y1="20.5" x2="316.30" y2="18.7" stroke="#4a6f98" stroke-width="0.9"/>
<line x1="325.35" y1="20.5" x2="325.35" y2="18.7" stroke="#4a6f98" stroke-width="0.9"/>
<line x1="332.74" y1="20.5" x2="332.74" y2="18.3" stroke="#4a6f98" stroke-width="0.9"/>
<line x1="338.99" y1="20.5" x2="338.99" y2="18.7" stroke="#4a6f98" stroke-width="0.9"/>
<line x1="344.40" y1="20.5" x2="344.40" y2="18.3" stroke="#4a6f98" stroke-width="0.9"/>
<text x="260.11" y="14.6" font-size="7.6" text-anchor="middle" fill="#5a80ac">1</text>
<text x="332.74" y="14.6" font-size="7.6" text-anchor="middle" fill="#5a80ac">6</text>
<text x="344.40" y="14.6" font-size="7.6" text-anchor="middle" fill="#5a80ac">8</text>
<text x="278.15" y="7.5" font-size="9" text-anchor="middle" font-style="italic" fill="#222" stroke="#222">Nt</text>
<line x1="211.3" y1="34.8" x2="344.4" y2="34.8" stroke="#f2a8a8" stroke-width="2.3"/>
<line x1="222.96" y1="35.099999999999994" x2="222.96" y2="32.3" stroke="#d88890" stroke-width="0.9"/>
<line x1="239.40" y1="35.099999999999994" x2="239.40" y2="31.899999999999995" stroke="#d88890" stroke-width="0.9"/>
<line x1="251.06" y1="35.099999999999994" x2="251.06" y2="32.3" stroke="#d88890" stroke-width="0.9"/>
<line x1="260.11" y1="35.099999999999994" x2="260.11" y2="31.899999999999995" stroke="#d88890" stroke-width="0.9"/>
<line x1="267.50" y1="35.099999999999994" x2="267.50" y2="32.3" stroke="#d88890" stroke-width="0.9"/>
<line x1="273.75" y1="35.099999999999994" x2="273.75" y2="32.3" stroke="#d88890" stroke-width="0.9"/>
<line x1="279.16" y1="35.099999999999994" x2="279.16" y2="32.3" stroke="#d88890" stroke-width="0.9"/>
<line x1="283.93" y1="35.099999999999994" x2="283.93" y2="32.3" stroke="#d88890" stroke-width="0.9"/>
<line x1="288.20" y1="35.099999999999994" x2="288.20" y2="31.899999999999995" stroke="#d88890" stroke-width="0.9"/>
<line x1="316.30" y1="35.099999999999994" x2="316.30" y2="32.3" stroke="#d88890" stroke-width="0.9"/>
<line x1="332.74" y1="35.099999999999994" x2="332.74" y2="32.3" stroke="#d88890" stroke-width="0.9"/>
<line x1="344.40" y1="35.099999999999994" x2="344.40" y2="31.899999999999995" stroke="#d88890" stroke-width="0.9"/>
<text x="239.40" y="28.5" font-size="7.6" text-anchor="middle" fill="#d04545">3</text>
<text x="260.11" y="28.5" font-size="7.6" text-anchor="middle" fill="#d04545">5</text>
<text x="288.20" y="28.5" font-size="7.6" text-anchor="middle" fill="#d04545">10</text>
<text x="344.40" y="28.5" font-size="7.6" text-anchor="middle" fill="#d04545">40</text>
<text x="4" y="8.00" font-size="9.2" fill="#222" stroke="none">(<tspan font-style="italic" dx="0.0">a</tspan><tspan dx="0.3">)</tspan></text>
<text x="191" y="8.00" font-size="9.2" fill="#222" stroke="none">(<tspan font-style="italic" dx="0.0">b</tspan><tspan dx="1.0">)</tspan></text>
<text x="4" y="104.80" font-size="9.2" fill="#222" stroke="none">(<tspan font-style="italic" dx="0.0">c</tspan><tspan dx="0.3">)</tspan></text>
<text x="191" y="104.80" font-size="9.2" fill="#222" stroke="none">(<tspan font-style="italic" dx="0.0">d</tspan><tspan dx="1.0">)</tspan></text>
<text x="4" y="173.50" font-size="9.2" fill="#222" stroke="none">(<tspan font-style="italic" dx="0.0">e</tspan><tspan dx="0.3">)</tspan></text>
<text x="191" y="173.50" font-size="9.2" fill="#222" stroke="none">(<tspan font-style="italic" dx="0.6">f</tspan><tspan dx="1.0">)</tspan></text>
<text x="4" y="242.40" font-size="9.2" fill="#222" stroke="none">(<tspan font-style="italic" dx="0.0">g</tspan><tspan dx="0.3">)</tspan></text>
<text x="191" y="242.40" font-size="9.2" fill="#222" stroke="none">(<tspan font-style="italic" dx="0.0">h</tspan><tspan dx="1.0">)</tspan></text>
<text x="0.6" y="60.65" font-size="9.5" fill="#222">{</text>
<text x="3.9" y="60.65" font-size="8.8" font-style="italic" fill="#222">E</text>
<text x="10.6" y="57.35" font-size="6" font-style="italic" fill="#222">T</text>
<text x="9.7" y="63.75" font-size="6.2" font-style="italic" fill="#222">K</text>
<text x="13.8" y="60.65" font-size="9.5" fill="#222">}</text>
<text x="0.6" y="129.15" font-size="9.5" fill="#222">{</text>
<text x="3.9" y="129.15" font-size="8.8" font-style="italic" fill="#222">E</text>
<text x="10.6" y="125.85" font-size="6" font-style="italic" fill="#222">T</text>
<text x="9.7" y="132.25" font-size="6.2" font-style="italic" fill="#222">Kx</text>
<text x="17.2" y="129.15" font-size="9.5" fill="#222">}</text>
<text x="0.6" y="197.80" font-size="9.5" fill="#222">{</text>
<text x="3.9" y="197.80" font-size="8.8" font-style="italic" fill="#222">E</text>
<text x="10.6" y="194.50" font-size="6" font-style="italic" fill="#222">T</text>
<text x="9.7" y="200.90" font-size="6.2" font-style="italic" fill="#222">Ky</text>
<text x="17.2" y="197.80" font-size="9.5" fill="#222">}</text>
<text x="0.6" y="266.75" font-size="9.5" fill="#222">{</text>
<text x="3.9" y="266.75" font-size="8.8" font-style="italic" fill="#222">E</text>
<text x="10.6" y="263.45" font-size="6" font-style="italic" fill="#222">T</text>
<text x="9.7" y="269.85" font-size="6.2" font-style="italic" fill="#222">Kz</text>
<text x="17.2" y="266.75" font-size="9.5" fill="#222">}</text>
<text x="108.1" y="304.9" font-size="10.5" text-anchor="middle" font-style="italic" fill="#222">x</text>
<text x="278.9" y="304.9" font-size="10.5" text-anchor="middle" font-style="italic" fill="#222">x</text>
<line x1="43.6" y1="58.6" x2="55" y2="58.6" stroke="#484848" stroke-width="1.3"/>
<text x="57.60" y="61.30" font-size="7.5" text-anchor="start"  fill="#222" stroke="#222" >Unstratified</text>
<line x1="43" y1="67.4" x2="54.6" y2="67.4" stroke="#3a77b6" stroke-width="1.2"/>
<circle cx="48.8" cy="67.4" r="1.5" fill="#1f5a92"/>
<text x="57.6" y="70" font-size="7.5" fill="#222"><tspan font-style="italic">Fr</tspan> = 10</text>
<line x1="43" y1="76" x2="54.6" y2="76" stroke="#d8413a" stroke-width="1.2"/>
<circle cx="48.8" cy="76" r="1.7" fill="#c42030"/>
<text x="57.6" y="78.6" font-size="7.5" fill="#222"><tspan font-style="italic">Fr</tspan> = 2</text>
<line x1="146" y1="46.3" x2="173" y2="50.1" stroke="#333" stroke-width="1" stroke-dasharray="0.9,1.2"/>
<line x1="147" y1="56.2" x2="173.4" y2="65.9" stroke="#333" stroke-width="1" stroke-dasharray="0.9,1.2"/>
<line x1="157.6" y1="65.3" x2="173.4" y2="58.3" stroke="#333" stroke-width="1" stroke-dasharray="0.9,1.2"/>
<text x="155.6" y="45.4" font-size="6" font-style="italic" fill="#444">x<tspan dy="-2.1" font-size="4.2" font-style="normal">−2/5</tspan></text>
<text x="159.3" y="58.9" font-size="6" font-style="italic" fill="#444">x<tspan dy="-2.1" font-size="4.2" font-style="normal">−1.1</tspan></text>
<text x="155.6" y="70.6" font-size="6" font-style="italic" fill="#444">x<tspan dy="-2.1" font-size="4.2" font-style="normal">1.1</tspan></text>
<line x1="288" y1="48" x2="335" y2="54" stroke="#333" stroke-width="1" stroke-dasharray="0.9,1.2"/>
<text x="304.6" y="46.8" font-size="6" font-style="italic" fill="#444">x<tspan dy="-2.1" font-size="4.2" font-style="normal">−2/5</tspan></text>
</svg></body></html>
